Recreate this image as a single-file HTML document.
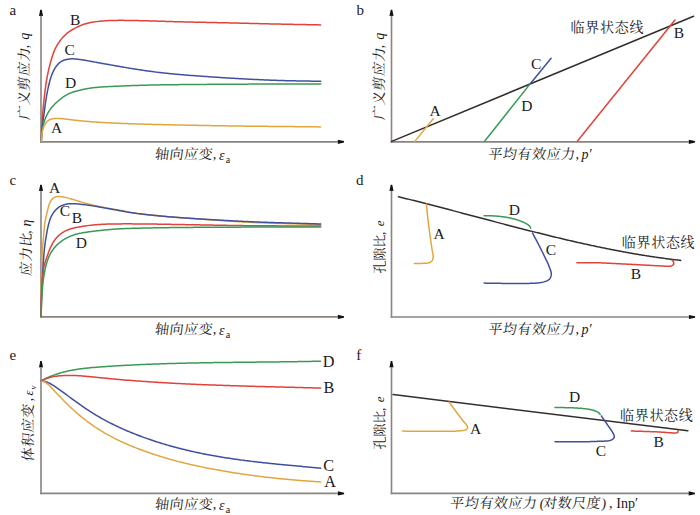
<!DOCTYPE html>
<html><head><meta charset="utf-8"><style>
html,body{margin:0;padding:0;background:#fff;width:700px;height:515px;overflow:hidden}
svg{display:block}
</style></head><body>
<svg width="700" height="515" viewBox="0 0 700 515">
<rect width="700" height="515" fill="#fff"/>
<text x="9.50" y="14.80" font-size="15" font-family="Liberation Serif, serif" fill="#1a1a1a">a</text>
<line x1="41.00" y1="142.65" x2="41.00" y2="13.80" stroke="#8a837e" stroke-width="1.6"/>
<line x1="40.20" y1="141.85" x2="340.00" y2="141.85" stroke="#8a837e" stroke-width="1.6"/>
<path d="M40.25,9.80 L41.75,9.80 L43.05,16.10 Q41.00,15.50 38.95,16.10 Z" fill="#111"/>
<path d="M344.00,141.10 L344.00,142.60 L337.70,143.90 Q338.30,141.85 337.70,139.80 Z" fill="#111"/>
<path d="M41.30,141.50 L41.33,140.50 L41.36,139.50 L41.38,138.50 L41.41,137.50 L41.44,136.50 L41.47,135.50 L41.50,134.50 L41.53,133.50 L41.56,132.50 L41.60,131.50 L41.64,130.50 L41.69,129.50 L41.73,128.50 L41.79,127.50 L41.84,126.50 L41.90,125.50 L41.95,124.50 L42.01,123.50 L42.08,122.50 L42.14,121.51 L42.21,120.51 L42.27,119.51 L42.34,118.51 L42.41,117.51 L42.49,116.52 L42.56,115.52 L42.64,114.52 L42.71,113.52 L42.79,112.52 L42.88,111.53 L42.96,110.53 L43.05,109.53 L43.14,108.54 L43.23,107.54 L43.32,106.54 L43.41,105.55 L43.51,104.55 L43.61,103.56 L43.71,102.56 L43.81,101.56 L43.92,100.57 L44.03,99.57 L44.14,98.58 L44.25,97.59 L44.37,96.59 L44.48,95.60 L44.61,94.61 L44.73,93.61 L44.85,92.62 L44.98,91.63 L45.11,90.63 L45.23,89.64 L45.36,88.65 L45.50,87.66 L45.63,86.67 L45.77,85.67 L45.91,84.68 L46.05,83.69 L46.20,82.70 L46.35,81.71 L46.50,80.73 L46.66,79.74 L46.83,78.75 L47.00,77.77 L47.18,76.78 L47.37,75.80 L47.56,74.82 L47.76,73.84 L47.96,72.86 L48.18,71.88 L48.39,70.90 L48.62,69.93 L48.85,68.95 L49.08,67.98 L49.32,67.01 L49.57,66.04 L49.82,65.07 L50.07,64.10 L50.34,63.14 L50.60,62.17 L50.87,61.21 L51.15,60.25 L51.43,59.29 L51.71,58.33 L52.00,57.37 L52.29,56.41 L52.59,55.46 L52.90,54.51 L53.22,53.56 L53.56,52.62 L53.92,51.69 L54.30,50.76 L54.69,49.85 L55.11,48.94 L55.55,48.04 L56.01,47.16 L56.49,46.28 L56.99,45.41 L57.51,44.56 L58.04,43.71 L58.59,42.88 L59.16,42.05 L59.74,41.24 L60.34,40.44 L60.95,39.65 L61.58,38.88 L62.22,38.11 L62.88,37.36 L63.56,36.62 L64.25,35.90 L64.95,35.19 L65.68,34.51 L66.42,33.84 L67.19,33.20 L67.97,32.58 L68.76,31.98 L69.58,31.40 L70.40,30.84 L71.24,30.30 L72.10,29.77 L72.96,29.27 L73.83,28.78 L74.71,28.30 L75.60,27.84 L76.49,27.39 L77.39,26.96 L78.30,26.54 L79.21,26.13 L80.13,25.74 L81.06,25.36 L81.99,24.99 L82.92,24.64 L83.87,24.31 L84.82,24.00 L85.77,23.71 L86.73,23.43 L87.70,23.18 L88.67,22.95 L89.65,22.73 L90.63,22.53 L91.61,22.35 L92.60,22.18 L93.58,22.03 L94.57,21.88 L95.57,21.75 L96.56,21.62 L97.55,21.50 L98.54,21.38 L99.54,21.27 L100.53,21.16 L101.53,21.06 L102.53,20.97 L103.52,20.89 L104.52,20.82 L105.52,20.75 L106.52,20.69 L107.52,20.64 L108.52,20.60 L109.52,20.56 L110.52,20.53 L111.52,20.50 L112.52,20.47 L113.52,20.45 L114.52,20.43 L115.52,20.41 L116.52,20.39 L117.52,20.38 L118.52,20.37 L119.52,20.36 L120.52,20.36 L121.52,20.36 L122.52,20.36 L123.52,20.37 L124.52,20.38 L125.52,20.39 L126.52,20.40 L127.52,20.42 L128.53,20.43 L129.53,20.45 L130.53,20.47 L131.53,20.49 L132.53,20.51 L133.53,20.53 L134.53,20.54 L135.53,20.56 L136.53,20.58 L137.53,20.60 L138.53,20.62 L139.53,20.65 L140.53,20.67 L141.53,20.69 L142.53,20.71 L143.53,20.74 L144.53,20.77 L145.53,20.79 L146.53,20.82 L147.53,20.85 L148.53,20.87 L149.53,20.90 L150.53,20.93 L151.53,20.96 L152.53,20.99 L153.53,21.02 L154.53,21.05 L155.54,21.08 L156.54,21.11 L157.54,21.14 L158.54,21.17 L159.54,21.20 L160.54,21.23 L161.54,21.27 L162.54,21.30 L163.54,21.33 L164.54,21.36 L165.54,21.39 L166.54,21.42 L167.54,21.45 L168.54,21.48 L169.54,21.51 L170.54,21.54 L171.54,21.57 L172.54,21.60 L173.54,21.63 L174.54,21.65 L175.54,21.68 L176.54,21.71 L177.54,21.73 L178.54,21.76 L179.54,21.79 L180.54,21.81 L181.54,21.84 L182.54,21.86 L183.54,21.89 L184.54,21.91 L185.54,21.93 L186.54,21.96 L187.54,21.98 L188.54,22.00 L189.54,22.03 L190.54,22.05 L191.55,22.07 L192.55,22.09 L193.55,22.12 L194.55,22.14 L195.55,22.16 L196.55,22.18 L197.55,22.20 L198.55,22.22 L199.55,22.25 L200.55,22.27 L201.55,22.29 L202.55,22.31 L203.55,22.33 L204.55,22.35 L205.55,22.37 L206.55,22.39 L207.55,22.41 L208.55,22.44 L209.55,22.46 L210.55,22.48 L211.55,22.50 L212.55,22.52 L213.55,22.54 L214.56,22.56 L215.56,22.58 L216.56,22.60 L217.56,22.63 L218.56,22.65 L219.56,22.67 L220.56,22.69 L221.56,22.71 L222.56,22.73 L223.56,22.76 L224.56,22.78 L225.56,22.80 L226.56,22.82 L227.56,22.84 L228.56,22.87 L229.56,22.89 L230.56,22.91 L231.56,22.94 L232.56,22.96 L233.56,22.98 L234.56,23.01 L235.56,23.03 L236.56,23.06 L237.56,23.08 L238.57,23.11 L239.57,23.13 L240.57,23.16 L241.57,23.18 L242.57,23.21 L243.57,23.23 L244.57,23.26 L245.57,23.28 L246.57,23.31 L247.57,23.33 L248.57,23.36 L249.57,23.38 L250.57,23.41 L251.57,23.43 L252.57,23.46 L253.57,23.48 L254.57,23.51 L255.57,23.53 L256.57,23.56 L257.57,23.58 L258.57,23.61 L259.57,23.63 L260.57,23.66 L261.57,23.68 L262.57,23.71 L263.57,23.73 L264.57,23.76 L265.57,23.78 L266.58,23.81 L267.58,23.83 L268.58,23.85 L269.58,23.88 L270.58,23.90 L271.58,23.92 L272.58,23.95 L273.58,23.97 L274.58,23.99 L275.58,24.01 L276.58,24.03 L277.58,24.06 L278.58,24.08 L279.58,24.10 L280.58,24.12 L281.58,24.14 L282.58,24.16 L283.58,24.18 L284.58,24.20 L285.58,24.22 L286.58,24.24 L287.58,24.26 L288.58,24.28 L289.59,24.30 L290.59,24.32 L291.59,24.34 L292.59,24.36 L293.59,24.38 L294.59,24.40 L295.59,24.42 L296.59,24.44 L297.59,24.46 L298.59,24.48 L299.59,24.50 L300.59,24.52 L301.59,24.54 L302.59,24.55 L303.59,24.57 L304.59,24.59 L305.59,24.61 L306.59,24.63 L307.59,24.65 L308.59,24.67 L309.59,24.69 L310.60,24.71 L311.60,24.73 L312.60,24.74 L313.60,24.76 L314.60,24.78 L315.60,24.80 L316.60,24.82 L317.60,24.84 L318.60,24.86 L319.60,24.88 L320.60,24.90" stroke="#e0433a" stroke-width="1.5" fill="none" stroke-linecap="round" stroke-linejoin="round"/>
<path d="M41.30,141.50 L41.36,140.50 L41.42,139.50 L41.47,138.50 L41.53,137.50 L41.59,136.50 L41.65,135.51 L41.71,134.51 L41.78,133.51 L41.85,132.51 L41.93,131.51 L42.01,130.52 L42.10,129.52 L42.19,128.52 L42.29,127.53 L42.40,126.53 L42.51,125.54 L42.62,124.54 L42.74,123.55 L42.86,122.55 L42.98,121.56 L43.11,120.57 L43.24,119.58 L43.37,118.58 L43.50,117.59 L43.63,116.60 L43.76,115.61 L43.90,114.62 L44.03,113.62 L44.17,112.63 L44.30,111.64 L44.44,110.65 L44.58,109.66 L44.71,108.67 L44.85,107.68 L44.98,106.68 L45.12,105.69 L45.26,104.70 L45.39,103.71 L45.53,102.72 L45.67,101.73 L45.82,100.74 L45.96,99.75 L46.12,98.76 L46.27,97.77 L46.44,96.78 L46.60,95.80 L46.78,94.81 L46.96,93.83 L47.15,92.84 L47.34,91.86 L47.54,90.88 L47.74,89.90 L47.94,88.92 L48.15,87.94 L48.37,86.96 L48.59,85.99 L48.81,85.01 L49.05,84.04 L49.29,83.07 L49.54,82.10 L49.79,81.13 L50.06,80.17 L50.34,79.21 L50.64,78.25 L50.94,77.30 L51.26,76.35 L51.60,75.41 L51.94,74.47 L52.31,73.54 L52.69,72.62 L53.10,71.71 L53.53,70.81 L53.99,69.92 L54.48,69.05 L54.99,68.20 L55.54,67.36 L56.11,66.55 L56.71,65.75 L57.34,64.98 L57.99,64.23 L58.69,63.53 L59.42,62.86 L60.19,62.24 L60.99,61.67 L61.84,61.17 L62.72,60.72 L63.63,60.33 L64.56,60.00 L65.51,59.72 L66.48,59.49 L67.45,59.29 L68.44,59.14 L69.43,59.01 L70.42,58.92 L71.42,58.87 L72.41,58.85 L73.41,58.86 L74.41,58.91 L75.40,58.98 L76.40,59.07 L77.39,59.18 L78.38,59.30 L79.38,59.43 L80.37,59.57 L81.36,59.71 L82.35,59.86 L83.34,60.02 L84.32,60.18 L85.31,60.35 L86.29,60.53 L87.28,60.70 L88.26,60.88 L89.25,61.06 L90.23,61.24 L91.22,61.42 L92.20,61.60 L93.19,61.78 L94.17,61.95 L95.16,62.13 L96.14,62.31 L97.13,62.49 L98.11,62.67 L99.10,62.85 L100.08,63.03 L101.07,63.21 L102.05,63.39 L103.04,63.56 L104.02,63.74 L105.01,63.91 L105.99,64.09 L106.98,64.26 L107.96,64.44 L108.95,64.61 L109.93,64.78 L110.92,64.95 L111.91,65.13 L112.89,65.30 L113.88,65.47 L114.86,65.64 L115.85,65.82 L116.83,65.99 L117.82,66.16 L118.81,66.34 L119.79,66.51 L120.78,66.68 L121.76,66.86 L122.75,67.03 L123.73,67.20 L124.72,67.37 L125.71,67.54 L126.69,67.71 L127.68,67.88 L128.67,68.05 L129.65,68.21 L130.64,68.38 L131.63,68.54 L132.62,68.70 L133.60,68.86 L134.59,69.02 L135.58,69.18 L136.57,69.33 L137.56,69.48 L138.55,69.63 L139.54,69.78 L140.53,69.93 L141.52,70.08 L142.51,70.23 L143.50,70.37 L144.49,70.52 L145.48,70.66 L146.47,70.80 L147.46,70.94 L148.45,71.08 L149.44,71.21 L150.43,71.35 L151.43,71.48 L152.42,71.61 L153.41,71.74 L154.40,71.87 L155.40,72.00 L156.39,72.12 L157.38,72.25 L158.38,72.37 L159.37,72.49 L160.36,72.60 L161.36,72.72 L162.35,72.83 L163.35,72.94 L164.34,73.05 L165.34,73.16 L166.33,73.26 L167.33,73.36 L168.32,73.47 L169.32,73.57 L170.31,73.67 L171.31,73.77 L172.31,73.86 L173.30,73.96 L174.30,74.05 L175.30,74.15 L176.29,74.24 L177.29,74.33 L178.29,74.42 L179.28,74.51 L180.28,74.60 L181.28,74.69 L182.27,74.77 L183.27,74.86 L184.27,74.94 L185.26,75.02 L186.26,75.10 L187.26,75.18 L188.26,75.25 L189.26,75.33 L190.25,75.40 L191.25,75.48 L192.25,75.55 L193.25,75.62 L194.25,75.69 L195.25,75.76 L196.24,75.83 L197.24,75.90 L198.24,75.98 L199.24,76.05 L200.24,76.12 L201.24,76.19 L202.23,76.26 L203.23,76.33 L204.23,76.40 L205.23,76.47 L206.23,76.54 L207.22,76.62 L208.22,76.69 L209.22,76.76 L210.22,76.83 L211.22,76.90 L212.22,76.97 L213.21,77.03 L214.21,77.10 L215.21,77.17 L216.21,77.24 L217.21,77.31 L218.21,77.37 L219.21,77.44 L220.20,77.51 L221.20,77.57 L222.20,77.64 L223.20,77.70 L224.20,77.77 L225.20,77.83 L226.20,77.89 L227.20,77.95 L228.19,78.02 L229.19,78.08 L230.19,78.14 L231.19,78.20 L232.19,78.26 L233.19,78.31 L234.19,78.37 L235.19,78.43 L236.19,78.49 L237.19,78.54 L238.19,78.60 L239.19,78.66 L240.18,78.71 L241.18,78.76 L242.18,78.82 L243.18,78.87 L244.18,78.93 L245.18,78.98 L246.18,79.03 L247.18,79.08 L248.18,79.13 L249.18,79.18 L250.18,79.23 L251.18,79.28 L252.18,79.33 L253.18,79.38 L254.18,79.43 L255.18,79.47 L256.18,79.52 L257.18,79.57 L258.18,79.61 L259.18,79.66 L260.18,79.71 L261.18,79.75 L262.18,79.79 L263.17,79.84 L264.17,79.88 L265.17,79.93 L266.17,79.97 L267.17,80.01 L268.17,80.05 L269.17,80.09 L270.17,80.13 L271.17,80.17 L272.17,80.21 L273.17,80.25 L274.17,80.29 L275.17,80.32 L276.18,80.36 L277.18,80.39 L278.18,80.43 L279.18,80.46 L280.18,80.49 L281.18,80.52 L282.18,80.55 L283.18,80.58 L284.18,80.61 L285.18,80.64 L286.18,80.67 L287.18,80.69 L288.18,80.72 L289.18,80.74 L290.18,80.77 L291.18,80.79 L292.18,80.81 L293.18,80.83 L294.18,80.85 L295.18,80.87 L296.18,80.89 L297.18,80.91 L298.19,80.92 L299.19,80.94 L300.19,80.96 L301.19,80.98 L302.19,80.99 L303.19,81.01 L304.19,81.03 L305.19,81.04 L306.19,81.06 L307.19,81.07 L308.19,81.09 L309.19,81.11 L310.19,81.12 L311.19,81.14 L312.19,81.15 L313.20,81.17 L314.20,81.19 L315.20,81.20 L316.20,81.22 L317.20,81.24 L318.20,81.26 L319.20,81.27 L320.20,81.29 L320.70,81.30" stroke="#4050a0" stroke-width="1.5" fill="none" stroke-linecap="round" stroke-linejoin="round"/>
<path d="M41.30,141.50 L41.35,140.50 L41.40,139.50 L41.45,138.50 L41.51,137.50 L41.59,136.51 L41.67,135.51 L41.76,134.51 L41.86,133.52 L41.98,132.52 L42.10,131.53 L42.23,130.54 L42.38,129.55 L42.55,128.57 L42.73,127.58 L42.93,126.60 L43.15,125.63 L43.39,124.66 L43.64,123.69 L43.92,122.73 L44.21,121.77 L44.52,120.82 L44.85,119.88 L45.19,118.94 L45.55,118.01 L45.94,117.09 L46.34,116.17 L46.77,115.27 L47.21,114.37 L47.67,113.49 L48.16,112.62 L48.66,111.75 L49.19,110.90 L49.74,110.07 L50.31,109.25 L50.90,108.44 L51.51,107.66 L52.15,106.89 L52.80,106.14 L53.48,105.40 L54.17,104.68 L54.89,103.98 L55.61,103.29 L56.35,102.62 L57.09,101.95 L57.84,101.29 L58.60,100.64 L59.37,99.99 L60.14,99.36 L60.92,98.73 L61.70,98.11 L62.50,97.51 L63.31,96.92 L64.13,96.35 L64.97,95.81 L65.82,95.29 L66.69,94.80 L67.57,94.33 L68.46,93.89 L69.37,93.48 L70.29,93.10 L71.23,92.73 L72.16,92.39 L73.11,92.07 L74.06,91.76 L75.02,91.47 L75.98,91.19 L76.94,90.92 L77.91,90.66 L78.88,90.41 L79.85,90.17 L80.82,89.93 L81.79,89.71 L82.77,89.49 L83.75,89.28 L84.73,89.08 L85.71,88.89 L86.70,88.71 L87.68,88.54 L88.67,88.38 L89.66,88.23 L90.65,88.09 L91.64,87.96 L92.63,87.83 L93.63,87.71 L94.62,87.59 L95.61,87.48 L96.61,87.38 L97.61,87.28 L98.60,87.19 L99.60,87.11 L100.60,87.03 L101.59,86.96 L102.59,86.90 L103.59,86.84 L104.59,86.79 L105.59,86.74 L106.59,86.69 L107.59,86.64 L108.59,86.60 L109.59,86.55 L110.59,86.51 L111.59,86.46 L112.59,86.41 L113.59,86.37 L114.59,86.32 L115.59,86.27 L116.59,86.23 L117.59,86.18 L118.59,86.14 L119.59,86.09 L120.59,86.05 L121.58,86.01 L122.58,85.97 L123.58,85.93 L124.58,85.88 L125.58,85.85 L126.58,85.81 L127.58,85.77 L128.58,85.73 L129.58,85.69 L130.58,85.66 L131.58,85.62 L132.58,85.58 L133.58,85.55 L134.58,85.51 L135.58,85.48 L136.58,85.45 L137.58,85.42 L138.59,85.38 L139.59,85.35 L140.59,85.32 L141.59,85.29 L142.59,85.26 L143.59,85.23 L144.59,85.21 L145.59,85.18 L146.59,85.15 L147.59,85.13 L148.59,85.10 L149.59,85.08 L150.59,85.06 L151.59,85.04 L152.59,85.02 L153.59,85.00 L154.59,84.98 L155.59,84.96 L156.59,84.94 L157.59,84.92 L158.59,84.90 L159.59,84.88 L160.59,84.87 L161.59,84.85 L162.59,84.84 L163.60,84.82 L164.60,84.81 L165.60,84.79 L166.60,84.78 L167.60,84.76 L168.60,84.75 L169.60,84.74 L170.60,84.73 L171.60,84.71 L172.60,84.70 L173.60,84.69 L174.60,84.68 L175.60,84.67 L176.60,84.66 L177.60,84.65 L178.60,84.64 L179.61,84.62 L180.61,84.61 L181.61,84.60 L182.61,84.59 L183.61,84.58 L184.61,84.57 L185.61,84.56 L186.61,84.56 L187.61,84.55 L188.61,84.54 L189.61,84.53 L190.61,84.52 L191.61,84.51 L192.61,84.50 L193.61,84.49 L194.61,84.48 L195.62,84.47 L196.62,84.47 L197.62,84.46 L198.62,84.45 L199.62,84.44 L200.62,84.43 L201.62,84.42 L202.62,84.41 L203.62,84.41 L204.62,84.40 L205.62,84.39 L206.62,84.38 L207.62,84.37 L208.62,84.36 L209.62,84.36 L210.63,84.35 L211.63,84.34 L212.63,84.33 L213.63,84.33 L214.63,84.32 L215.63,84.31 L216.63,84.30 L217.63,84.30 L218.63,84.29 L219.63,84.28 L220.63,84.27 L221.63,84.27 L222.63,84.26 L223.63,84.25 L224.63,84.25 L225.64,84.24 L226.64,84.24 L227.64,84.23 L228.64,84.22 L229.64,84.22 L230.64,84.21 L231.64,84.20 L232.64,84.20 L233.64,84.19 L234.64,84.19 L235.64,84.18 L236.64,84.18 L237.64,84.17 L238.64,84.17 L239.64,84.16 L240.65,84.16 L241.65,84.15 L242.65,84.15 L243.65,84.14 L244.65,84.14 L245.65,84.14 L246.65,84.13 L247.65,84.13 L248.65,84.12 L249.65,84.12 L250.65,84.12 L251.65,84.11 L252.65,84.11 L253.65,84.11 L254.65,84.10 L255.66,84.10 L256.66,84.10 L257.66,84.10 L258.66,84.09 L259.66,84.09 L260.66,84.09 L261.66,84.09 L262.66,84.08 L263.66,84.08 L264.66,84.08 L265.66,84.08 L266.66,84.08 L267.66,84.08 L268.66,84.08 L269.67,84.08 L270.67,84.08 L271.67,84.08 L272.67,84.07 L273.67,84.07 L274.67,84.07 L275.67,84.07 L276.67,84.07 L277.67,84.07 L278.67,84.07 L279.67,84.07 L280.67,84.07 L281.67,84.07 L282.67,84.08 L283.67,84.08 L284.68,84.08 L285.68,84.08 L286.68,84.08 L287.68,84.08 L288.68,84.08 L289.68,84.08 L290.68,84.08 L291.68,84.08 L292.68,84.08 L293.68,84.08 L294.68,84.08 L295.68,84.08 L296.68,84.08 L297.68,84.09 L298.68,84.09 L299.69,84.09 L300.69,84.09 L301.69,84.09 L302.69,84.09 L303.69,84.09 L304.69,84.09 L305.69,84.09 L306.69,84.09 L307.69,84.09 L308.69,84.09 L309.69,84.10 L310.69,84.10 L311.69,84.10 L312.69,84.10 L313.70,84.10 L314.70,84.10 L315.70,84.10 L316.70,84.10 L317.70,84.10 L318.70,84.10 L319.70,84.10 L320.70,84.10" stroke="#3a9a55" stroke-width="1.5" fill="none" stroke-linecap="round" stroke-linejoin="round"/>
<path d="M41.30,141.50 L41.37,140.50 L41.43,139.50 L41.51,138.51 L41.59,137.51 L41.67,136.51 L41.78,135.52 L41.90,134.53 L42.03,133.54 L42.20,132.55 L42.38,131.57 L42.60,130.60 L42.85,129.64 L43.14,128.68 L43.46,127.74 L43.82,126.81 L44.21,125.90 L44.65,125.01 L45.13,124.14 L45.66,123.30 L46.23,122.51 L46.86,121.76 L47.55,121.08 L48.30,120.48 L49.12,119.96 L49.98,119.54 L50.89,119.19 L51.83,118.92 L52.80,118.71 L53.78,118.56 L54.76,118.46 L55.76,118.40 L56.75,118.38 L57.75,118.39 L58.75,118.42 L59.75,118.47 L60.75,118.53 L61.74,118.62 L62.74,118.71 L63.73,118.81 L64.73,118.93 L65.72,119.05 L66.71,119.17 L67.70,119.30 L68.70,119.43 L69.69,119.55 L70.68,119.67 L71.67,119.79 L72.67,119.91 L73.66,120.03 L74.66,120.14 L75.65,120.25 L76.64,120.36 L77.64,120.47 L78.63,120.58 L79.63,120.68 L80.62,120.79 L81.62,120.89 L82.61,120.98 L83.61,121.08 L84.61,121.17 L85.60,121.26 L86.60,121.35 L87.60,121.44 L88.59,121.53 L89.59,121.61 L90.59,121.69 L91.58,121.77 L92.58,121.84 L93.58,121.91 L94.58,121.98 L95.57,122.05 L96.57,122.12 L97.57,122.18 L98.57,122.25 L99.57,122.31 L100.57,122.37 L101.57,122.42 L102.56,122.48 L103.56,122.54 L104.56,122.59 L105.56,122.65 L106.56,122.70 L107.56,122.75 L108.56,122.80 L109.56,122.85 L110.56,122.90 L111.56,122.95 L112.56,122.99 L113.56,123.04 L114.55,123.08 L115.55,123.13 L116.55,123.17 L117.55,123.22 L118.55,123.26 L119.55,123.30 L120.55,123.34 L121.55,123.38 L122.55,123.42 L123.55,123.46 L124.55,123.50 L125.55,123.54 L126.55,123.57 L127.55,123.61 L128.55,123.65 L129.55,123.68 L130.55,123.72 L131.55,123.75 L132.55,123.79 L133.55,123.82 L134.55,123.85 L135.55,123.89 L136.55,123.92 L137.55,123.95 L138.55,123.98 L139.55,124.01 L140.55,124.04 L141.55,124.07 L142.55,124.10 L143.55,124.13 L144.55,124.16 L145.55,124.19 L146.55,124.21 L147.55,124.24 L148.55,124.27 L149.55,124.30 L150.55,124.32 L151.55,124.35 L152.55,124.38 L153.55,124.40 L154.55,124.43 L155.55,124.45 L156.55,124.48 L157.55,124.50 L158.55,124.53 L159.55,124.55 L160.55,124.58 L161.55,124.60 L162.55,124.63 L163.55,124.65 L164.55,124.67 L165.55,124.70 L166.55,124.72 L167.55,124.74 L168.55,124.77 L169.55,124.79 L170.55,124.81 L171.55,124.83 L172.55,124.86 L173.55,124.88 L174.55,124.90 L175.55,124.92 L176.55,124.94 L177.55,124.97 L178.55,124.99 L179.55,125.01 L180.55,125.03 L181.55,125.05 L182.55,125.07 L183.55,125.09 L184.55,125.11 L185.55,125.13 L186.55,125.15 L187.55,125.17 L188.55,125.19 L189.55,125.21 L190.56,125.23 L191.56,125.25 L192.56,125.27 L193.56,125.29 L194.56,125.31 L195.56,125.33 L196.56,125.35 L197.56,125.37 L198.56,125.39 L199.56,125.41 L200.56,125.43 L201.56,125.44 L202.56,125.46 L203.56,125.48 L204.56,125.50 L205.56,125.52 L206.56,125.54 L207.56,125.56 L208.56,125.57 L209.56,125.59 L210.56,125.61 L211.56,125.63 L212.56,125.64 L213.56,125.66 L214.56,125.68 L215.56,125.70 L216.56,125.71 L217.56,125.73 L218.56,125.75 L219.56,125.76 L220.56,125.78 L221.56,125.80 L222.56,125.81 L223.56,125.83 L224.56,125.84 L225.56,125.86 L226.57,125.87 L227.57,125.89 L228.57,125.90 L229.57,125.92 L230.57,125.93 L231.57,125.95 L232.57,125.96 L233.57,125.97 L234.57,125.99 L235.57,126.00 L236.57,126.01 L237.57,126.03 L238.57,126.04 L239.57,126.05 L240.57,126.07 L241.57,126.08 L242.57,126.09 L243.57,126.10 L244.57,126.12 L245.57,126.13 L246.57,126.14 L247.57,126.15 L248.57,126.16 L249.57,126.17 L250.57,126.19 L251.57,126.20 L252.57,126.21 L253.57,126.22 L254.57,126.23 L255.58,126.24 L256.58,126.25 L257.58,126.26 L258.58,126.27 L259.58,126.28 L260.58,126.30 L261.58,126.31 L262.58,126.32 L263.58,126.33 L264.58,126.34 L265.58,126.35 L266.58,126.36 L267.58,126.37 L268.58,126.38 L269.58,126.39 L270.58,126.40 L271.58,126.41 L272.58,126.42 L273.58,126.43 L274.58,126.44 L275.58,126.45 L276.58,126.46 L277.58,126.47 L278.58,126.48 L279.58,126.49 L280.58,126.49 L281.59,126.50 L282.59,126.51 L283.59,126.52 L284.59,126.53 L285.59,126.54 L286.59,126.55 L287.59,126.56 L288.59,126.57 L289.59,126.58 L290.59,126.59 L291.59,126.60 L292.59,126.61 L293.59,126.62 L294.59,126.63 L295.59,126.64 L296.59,126.65 L297.59,126.66 L298.59,126.67 L299.59,126.68 L300.59,126.69 L301.59,126.70 L302.59,126.71 L303.59,126.72 L304.59,126.73 L305.59,126.74 L306.59,126.75 L307.60,126.76 L308.60,126.77 L309.60,126.78 L310.60,126.79 L311.60,126.80 L312.60,126.81 L313.60,126.82 L314.60,126.83 L315.60,126.84 L316.60,126.86 L317.60,126.87 L318.60,126.88 L319.60,126.89 L320.60,126.90" stroke="#e3a63f" stroke-width="1.5" fill="none" stroke-linecap="round" stroke-linejoin="round"/>
<text class="lab" x="70.00" y="25.00" font-size="15.5" font-family="Liberation Serif, serif" fill="#1a1a1a">B</text>
<text class="lab" x="64.50" y="55.30" font-size="15.5" font-family="Liberation Serif, serif" fill="#1a1a1a">C</text>
<text class="lab" x="65.00" y="87.70" font-size="15.5" font-family="Liberation Serif, serif" fill="#1a1a1a">D</text>
<text class="lab" x="51.00" y="133.30" font-size="15.5" font-family="Liberation Serif, serif" fill="#1a1a1a">A</text>
<text transform="translate(154.50,159.00) skewX(-7.50)" font-size="14" font-family="Liberation Serif, Noto Serif CJK SC, serif" letter-spacing="0.55" fill="#1a1a1a">轴向应变</text><text x="212.70" y="159.00" font-size="14" font-family="Liberation Serif, serif" fill="#1a1a1a">,</text><text x="219.10" y="159.70" font-size="14" font-family="Liberation Serif, serif" font-style="italic" fill="#1a1a1a">ε</text><text x="225.80" y="163.10" font-size="10" font-family="Liberation Serif, serif" fill="#1a1a1a">a</text>
<g transform="translate(28.80,120.20) rotate(-90)"><text transform="translate(0.00,0.00) skewX(-7.50)" font-size="14" font-family="Liberation Serif, Noto Serif CJK SC, serif" letter-spacing="0.55" fill="#1a1a1a">广义剪应力</text><text x="72.00" y="0.00" font-size="14" font-family="Liberation Serif, serif" fill="#1a1a1a">,</text><text x="80.40" y="0.00" font-size="14" font-family="Liberation Serif, serif" font-style="italic" fill="#1a1a1a">q</text></g>
<text x="356.50" y="14.80" font-size="15" font-family="Liberation Serif, serif" fill="#1a1a1a">b</text>
<line x1="391.50" y1="142.65" x2="391.50" y2="13.80" stroke="#8a837e" stroke-width="1.6"/>
<line x1="390.70" y1="141.85" x2="691.00" y2="141.85" stroke="#8a837e" stroke-width="1.6"/>
<path d="M390.75,9.80 L392.25,9.80 L393.55,16.10 Q391.50,15.50 389.45,16.10 Z" fill="#111"/>
<path d="M695.00,141.10 L695.00,142.60 L688.70,143.90 Q689.30,141.85 688.70,139.80 Z" fill="#111"/>
<line x1="391.70" y1="141.40" x2="693.60" y2="16.20" stroke="#332e2b" stroke-width="1.5" stroke-linecap="round"/>
<line x1="414.80" y1="141.40" x2="433.20" y2="118.70" stroke="#e3a63f" stroke-width="1.5" stroke-linecap="round"/>
<line x1="484.60" y1="141.20" x2="530.50" y2="83.40" stroke="#3a9a55" stroke-width="1.5" stroke-linecap="round"/>
<line x1="530.50" y1="83.40" x2="551.10" y2="58.30" stroke="#4050a0" stroke-width="1.5" stroke-linecap="round"/>
<line x1="577.30" y1="141.20" x2="675.00" y2="20.00" stroke="#e0433a" stroke-width="1.5" stroke-linecap="round"/>
<text class="lab" x="429.50" y="116.30" font-size="15.5" font-family="Liberation Serif, serif" fill="#1a1a1a">A</text>
<text class="lab" x="531.00" y="69.30" font-size="15.5" font-family="Liberation Serif, serif" fill="#1a1a1a">C</text>
<text class="lab" x="521.30" y="111.10" font-size="15.5" font-family="Liberation Serif, serif" fill="#1a1a1a">D</text>
<text class="lab" x="673.80" y="38.00" font-size="15.5" font-family="Liberation Serif, serif" fill="#1a1a1a">B</text>
<text transform="translate(570.60,31.90)" font-size="14" font-family="Liberation Serif, Noto Serif CJK SC, serif" letter-spacing="0.7" fill="#1a1a1a">临界状态线</text>
<text transform="translate(487.80,158.75) skewX(-7.50)" font-size="14" font-family="Liberation Serif, Noto Serif CJK SC, serif" letter-spacing="0.55" fill="#1a1a1a">平均有效应力</text><text x="575.40" y="158.75" font-size="14" font-family="Liberation Serif, serif" fill="#1a1a1a">,</text><text x="581.60" y="158.75" font-size="14" font-family="Liberation Serif, serif" font-style="italic" fill="#1a1a1a">p′</text>
<g transform="translate(383.80,120.20) rotate(-90)"><text transform="translate(0.00,0.00) skewX(-7.50)" font-size="14" font-family="Liberation Serif, Noto Serif CJK SC, serif" letter-spacing="0.55" fill="#1a1a1a">广义剪应力</text><text x="72.00" y="0.00" font-size="14" font-family="Liberation Serif, serif" fill="#1a1a1a">,</text><text x="80.40" y="0.00" font-size="14" font-family="Liberation Serif, serif" font-style="italic" fill="#1a1a1a">q</text></g>
<text x="9.50" y="185.30" font-size="15" font-family="Liberation Serif, serif" fill="#1a1a1a">c</text>
<line x1="41.00" y1="317.70" x2="41.00" y2="188.80" stroke="#8a837e" stroke-width="1.6"/>
<line x1="40.20" y1="316.90" x2="340.00" y2="316.90" stroke="#8a837e" stroke-width="1.6"/>
<path d="M40.25,184.80 L41.75,184.80 L43.05,191.10 Q41.00,190.50 38.95,191.10 Z" fill="#111"/>
<path d="M344.00,316.15 L344.00,317.65 L337.70,318.95 Q338.30,316.90 337.70,314.85 Z" fill="#111"/>
<path d="M41.10,316.40 L41.11,315.40 L41.12,314.40 L41.13,313.40 L41.13,312.40 L41.14,311.40 L41.15,310.40 L41.16,309.40 L41.17,308.39 L41.18,307.39 L41.18,306.39 L41.19,305.39 L41.20,304.39 L41.21,303.39 L41.22,302.39 L41.23,301.39 L41.24,300.39 L41.25,299.39 L41.26,298.39 L41.27,297.39 L41.28,296.39 L41.30,295.39 L41.31,294.39 L41.32,293.38 L41.33,292.38 L41.34,291.38 L41.36,290.38 L41.37,289.38 L41.38,288.38 L41.39,287.38 L41.41,286.38 L41.42,285.38 L41.43,284.38 L41.44,283.38 L41.46,282.38 L41.47,281.38 L41.48,280.38 L41.50,279.38 L41.51,278.38 L41.53,277.38 L41.54,276.37 L41.56,275.37 L41.58,274.37 L41.59,273.37 L41.61,272.37 L41.63,271.37 L41.65,270.37 L41.67,269.37 L41.69,268.37 L41.72,267.37 L41.74,266.37 L41.77,265.37 L41.79,264.37 L41.82,263.37 L41.86,262.37 L41.89,261.37 L41.92,260.37 L41.96,259.37 L42.00,258.37 L42.04,257.37 L42.08,256.37 L42.13,255.37 L42.18,254.37 L42.23,253.37 L42.29,252.37 L42.35,251.37 L42.42,250.37 L42.49,249.38 L42.56,248.38 L42.64,247.38 L42.73,246.38 L42.81,245.39 L42.90,244.39 L42.99,243.39 L43.08,242.40 L43.17,241.40 L43.25,240.40 L43.34,239.41 L43.42,238.41 L43.50,237.41 L43.57,236.41 L43.65,235.42 L43.73,234.42 L43.81,233.42 L43.89,232.42 L43.98,231.43 L44.07,230.43 L44.16,229.43 L44.26,228.44 L44.36,227.44 L44.47,226.45 L44.58,225.45 L44.69,224.46 L44.82,223.47 L44.96,222.48 L45.11,221.49 L45.28,220.50 L45.47,219.52 L45.67,218.54 L45.89,217.57 L46.12,216.59 L46.36,215.62 L46.60,214.65 L46.84,213.68 L47.06,212.71 L47.28,211.73 L47.50,210.75 L47.72,209.78 L47.94,208.80 L48.17,207.83 L48.43,206.86 L48.71,205.91 L49.01,204.96 L49.35,204.02 L49.72,203.10 L50.13,202.19 L50.59,201.31 L51.09,200.47 L51.66,199.69 L52.30,198.97 L53.01,198.33 L53.79,197.79 L54.64,197.35 L55.54,197.01 L56.47,196.77 L57.43,196.61 L58.41,196.53 L59.40,196.52 L60.39,196.56 L61.38,196.66 L62.36,196.79 L63.35,196.96 L64.33,197.16 L65.30,197.37 L66.27,197.61 L67.24,197.86 L68.21,198.12 L69.17,198.40 L70.13,198.67 L71.09,198.95 L72.05,199.24 L73.01,199.52 L73.97,199.80 L74.93,200.09 L75.89,200.37 L76.85,200.66 L77.81,200.95 L78.76,201.24 L79.72,201.53 L80.68,201.82 L81.64,202.11 L82.60,202.39 L83.56,202.67 L84.52,202.95 L85.48,203.22 L86.45,203.48 L87.41,203.74 L88.38,204.00 L89.35,204.25 L90.32,204.49 L91.29,204.73 L92.26,204.97 L93.24,205.20 L94.21,205.43 L95.19,205.66 L96.16,205.88 L97.14,206.10 L98.12,206.31 L99.09,206.52 L100.07,206.73 L101.05,206.94 L102.03,207.14 L103.01,207.33 L104.00,207.53 L104.98,207.72 L105.96,207.90 L106.95,208.09 L107.93,208.26 L108.92,208.44 L109.90,208.60 L110.89,208.76 L111.88,208.92 L112.87,209.07 L113.86,209.23 L114.85,209.38 L115.83,209.53 L116.82,209.69 L117.81,209.85 L118.80,210.02 L119.78,210.19 L120.76,210.38 L121.74,210.58 L122.72,210.78 L123.70,210.99 L124.68,211.21 L125.66,211.42 L126.63,211.64 L127.61,211.85 L128.59,212.06 L129.57,212.26 L130.55,212.45 L131.53,212.63 L132.52,212.81 L133.51,212.97 L134.50,213.12 L135.49,213.27 L136.48,213.41 L137.47,213.55 L138.46,213.68 L139.45,213.81 L140.45,213.93 L141.44,214.05 L142.43,214.17 L143.43,214.28 L144.42,214.39 L145.42,214.50 L146.41,214.61 L147.41,214.72 L148.40,214.82 L149.40,214.93 L150.39,215.03 L151.39,215.13 L152.38,215.23 L153.38,215.33 L154.37,215.43 L155.37,215.52 L156.37,215.62 L157.36,215.72 L158.36,215.81 L159.35,215.90 L160.35,216.00 L161.35,216.09 L162.34,216.18 L163.34,216.28 L164.34,216.36 L165.33,216.45 L166.33,216.54 L167.33,216.62 L168.33,216.71 L169.32,216.79 L170.32,216.87 L171.32,216.95 L172.32,217.03 L173.31,217.10 L174.31,217.18 L175.31,217.25 L176.31,217.32 L177.30,217.40 L178.30,217.47 L179.30,217.54 L180.30,217.61 L181.30,217.68 L182.30,217.75 L183.29,217.82 L184.29,217.90 L185.29,217.97 L186.29,218.04 L187.29,218.11 L188.28,218.18 L189.28,218.25 L190.28,218.32 L191.28,218.39 L192.28,218.47 L193.28,218.54 L194.27,218.61 L195.27,218.68 L196.27,218.76 L197.27,218.83 L198.27,218.90 L199.26,218.98 L200.26,219.05 L201.26,219.12 L202.26,219.20 L203.26,219.27 L204.25,219.34 L205.25,219.41 L206.25,219.49 L207.25,219.56 L208.25,219.63 L209.24,219.70 L210.24,219.78 L211.24,219.85 L212.24,219.92 L213.24,219.99 L214.23,220.06 L215.23,220.13 L216.23,220.20 L217.23,220.28 L218.23,220.35 L219.23,220.41 L220.22,220.48 L221.22,220.55 L222.22,220.62 L223.22,220.69 L224.22,220.76 L225.22,220.82 L226.21,220.89 L227.21,220.96 L228.21,221.02 L229.21,221.09 L230.21,221.15 L231.21,221.22 L232.21,221.28 L233.20,221.34 L234.20,221.41 L235.20,221.47 L236.20,221.53 L237.20,221.59 L238.20,221.65 L239.20,221.71 L240.20,221.77 L241.20,221.82 L242.19,221.88 L243.19,221.94 L244.19,221.99 L245.19,222.05 L246.19,222.10 L247.19,222.15 L248.19,222.21 L249.19,222.26 L250.19,222.31 L251.19,222.35 L252.19,222.40 L253.19,222.45 L254.19,222.50 L255.19,222.54 L256.19,222.58 L257.19,222.63 L258.19,222.67 L259.19,222.71 L260.19,222.75 L261.19,222.79 L262.19,222.83 L263.19,222.87 L264.19,222.91 L265.19,222.95 L266.19,222.98 L267.19,223.02 L268.19,223.05 L269.19,223.09 L270.19,223.12 L271.19,223.16 L272.19,223.19 L273.19,223.22 L274.19,223.26 L275.19,223.29 L276.19,223.32 L277.19,223.35 L278.19,223.38 L279.19,223.41 L280.19,223.44 L281.19,223.47 L282.19,223.50 L283.19,223.53 L284.19,223.56 L285.19,223.59 L286.19,223.62 L287.19,223.64 L288.19,223.67 L289.19,223.70 L290.19,223.73 L291.19,223.76 L292.19,223.78 L293.19,223.81 L294.19,223.84 L295.19,223.86 L296.19,223.89 L297.19,223.92 L298.19,223.95 L299.19,223.97 L300.19,224.00 L301.19,224.03 L302.20,224.06 L303.20,224.08 L304.20,224.11 L305.20,224.14 L306.20,224.17 L307.20,224.20 L308.20,224.22 L309.20,224.25 L310.20,224.28 L311.20,224.31 L312.20,224.34 L313.20,224.37 L314.20,224.40 L315.20,224.43 L316.20,224.46 L317.20,224.49 L318.20,224.52 L319.20,224.55 L320.20,224.58 L320.70,224.60" stroke="#e3a63f" stroke-width="1.5" fill="none" stroke-linecap="round" stroke-linejoin="round"/>
<path d="M41.10,316.40 L41.12,315.40 L41.14,314.40 L41.17,313.40 L41.19,312.40 L41.21,311.40 L41.23,310.40 L41.25,309.40 L41.27,308.40 L41.30,307.40 L41.32,306.39 L41.35,305.39 L41.37,304.39 L41.40,303.39 L41.43,302.39 L41.46,301.39 L41.49,300.39 L41.53,299.39 L41.56,298.39 L41.60,297.39 L41.63,296.39 L41.67,295.39 L41.71,294.39 L41.75,293.39 L41.79,292.39 L41.83,291.39 L41.87,290.39 L41.91,289.39 L41.96,288.39 L42.00,287.39 L42.04,286.39 L42.09,285.39 L42.13,284.39 L42.18,283.39 L42.22,282.39 L42.27,281.39 L42.32,280.39 L42.36,279.39 L42.41,278.39 L42.46,277.39 L42.51,276.40 L42.56,275.40 L42.61,274.40 L42.66,273.40 L42.72,272.40 L42.77,271.40 L42.83,270.40 L42.88,269.40 L42.94,268.40 L43.00,267.40 L43.06,266.40 L43.12,265.40 L43.18,264.40 L43.25,263.41 L43.31,262.41 L43.38,261.41 L43.46,260.41 L43.53,259.41 L43.61,258.42 L43.69,257.42 L43.77,256.42 L43.85,255.42 L43.94,254.43 L44.03,253.43 L44.12,252.43 L44.21,251.44 L44.30,250.44 L44.40,249.44 L44.50,248.45 L44.61,247.45 L44.72,246.46 L44.84,245.46 L44.96,244.47 L45.09,243.48 L45.23,242.49 L45.37,241.50 L45.52,240.51 L45.67,239.52 L45.83,238.53 L46.00,237.54 L46.17,236.56 L46.34,235.57 L46.51,234.59 L46.68,233.60 L46.86,232.61 L47.03,231.63 L47.22,230.65 L47.40,229.66 L47.60,228.68 L47.81,227.70 L48.02,226.73 L48.25,225.75 L48.48,224.78 L48.73,223.81 L48.99,222.84 L49.26,221.88 L49.54,220.92 L49.85,219.97 L50.18,219.03 L50.54,218.10 L50.93,217.18 L51.35,216.28 L51.81,215.40 L52.30,214.53 L52.83,213.68 L53.38,212.86 L53.97,212.05 L54.58,211.26 L55.22,210.50 L55.90,209.77 L56.60,209.08 L57.34,208.41 L58.12,207.79 L58.92,207.21 L59.76,206.68 L60.62,206.19 L61.51,205.74 L62.42,205.35 L63.35,204.99 L64.29,204.68 L65.25,204.41 L66.22,204.19 L67.19,204.00 L68.18,203.86 L69.17,203.75 L70.16,203.68 L71.16,203.65 L72.16,203.64 L73.16,203.67 L74.16,203.71 L75.15,203.77 L76.15,203.85 L77.15,203.93 L78.14,204.03 L79.14,204.12 L80.14,204.22 L81.13,204.32 L82.13,204.42 L83.12,204.53 L84.12,204.64 L85.11,204.76 L86.10,204.88 L87.10,205.01 L88.09,205.14 L89.08,205.28 L90.07,205.42 L91.06,205.57 L92.05,205.72 L93.04,205.87 L94.03,206.03 L95.01,206.20 L96.00,206.36 L96.99,206.54 L97.97,206.71 L98.96,206.89 L99.94,207.07 L100.93,207.24 L101.91,207.42 L102.90,207.60 L103.88,207.78 L104.87,207.95 L105.85,208.13 L106.84,208.31 L107.82,208.49 L108.80,208.67 L109.79,208.85 L110.77,209.03 L111.76,209.21 L112.74,209.39 L113.73,209.57 L114.71,209.75 L115.70,209.93 L116.68,210.10 L117.67,210.28 L118.65,210.46 L119.64,210.64 L120.62,210.81 L121.61,210.99 L122.59,211.17 L123.58,211.35 L124.56,211.52 L125.55,211.70 L126.53,211.87 L127.52,212.04 L128.51,212.21 L129.49,212.37 L130.48,212.52 L131.47,212.68 L132.46,212.82 L133.45,212.96 L134.44,213.10 L135.43,213.24 L136.43,213.37 L137.42,213.49 L138.41,213.62 L139.40,213.74 L140.40,213.86 L141.39,213.98 L142.39,214.10 L143.38,214.22 L144.37,214.33 L145.37,214.44 L146.36,214.55 L147.36,214.66 L148.35,214.77 L149.35,214.88 L150.34,214.99 L151.34,215.09 L152.33,215.20 L153.33,215.30 L154.32,215.40 L155.32,215.50 L156.32,215.60 L157.31,215.70 L158.31,215.80 L159.30,215.90 L160.30,215.99 L161.30,216.09 L162.29,216.18 L163.29,216.27 L164.29,216.36 L165.28,216.45 L166.28,216.54 L167.28,216.63 L168.27,216.71 L169.27,216.79 L170.27,216.88 L171.27,216.96 L172.26,217.04 L173.26,217.12 L174.26,217.19 L175.26,217.27 L176.25,217.34 L177.25,217.42 L178.25,217.49 L179.25,217.56 L180.25,217.63 L181.25,217.70 L182.24,217.77 L183.24,217.84 L184.24,217.91 L185.24,217.98 L186.24,218.05 L187.24,218.11 L188.23,218.18 L189.23,218.25 L190.23,218.31 L191.23,218.38 L192.23,218.45 L193.23,218.51 L194.23,218.58 L195.23,218.64 L196.22,218.71 L197.22,218.77 L198.22,218.84 L199.22,218.90 L200.22,218.96 L201.22,219.03 L202.22,219.09 L203.22,219.15 L204.21,219.21 L205.21,219.28 L206.21,219.34 L207.21,219.40 L208.21,219.46 L209.21,219.52 L210.21,219.58 L211.21,219.64 L212.21,219.70 L213.20,219.76 L214.20,219.82 L215.20,219.88 L216.20,219.94 L217.20,220.00 L218.20,220.05 L219.20,220.11 L220.20,220.17 L221.20,220.22 L222.20,220.28 L223.20,220.34 L224.20,220.39 L225.19,220.45 L226.19,220.50 L227.19,220.56 L228.19,220.61 L229.19,220.67 L230.19,220.72 L231.19,220.77 L232.19,220.83 L233.19,220.88 L234.19,220.93 L235.19,220.98 L236.19,221.03 L237.19,221.09 L238.19,221.14 L239.19,221.19 L240.19,221.24 L241.19,221.29 L242.18,221.33 L243.18,221.38 L244.18,221.43 L245.18,221.48 L246.18,221.52 L247.18,221.57 L248.18,221.62 L249.18,221.66 L250.18,221.71 L251.18,221.75 L252.18,221.79 L253.18,221.84 L254.18,221.88 L255.18,221.92 L256.18,221.96 L257.18,222.00 L258.18,222.04 L259.18,222.08 L260.18,222.12 L261.18,222.16 L262.18,222.19 L263.18,222.23 L264.18,222.27 L265.18,222.30 L266.18,222.34 L267.18,222.37 L268.18,222.41 L269.18,222.44 L270.18,222.47 L271.18,222.51 L272.18,222.54 L273.18,222.57 L274.18,222.61 L275.18,222.64 L276.18,222.67 L277.19,222.70 L278.19,222.73 L279.19,222.76 L280.19,222.80 L281.19,222.83 L282.19,222.86 L283.19,222.89 L284.19,222.92 L285.19,222.95 L286.19,222.98 L287.19,223.00 L288.19,223.03 L289.19,223.06 L290.19,223.09 L291.19,223.12 L292.19,223.15 L293.19,223.18 L294.19,223.21 L295.19,223.24 L296.19,223.27 L297.19,223.29 L298.19,223.32 L299.19,223.35 L300.19,223.38 L301.19,223.41 L302.19,223.44 L303.19,223.47 L304.19,223.50 L305.20,223.53 L306.20,223.56 L307.20,223.59 L308.20,223.61 L309.20,223.64 L310.20,223.67 L311.20,223.70 L312.20,223.73 L313.20,223.76 L314.20,223.80 L315.20,223.83 L316.20,223.86 L317.20,223.89 L318.20,223.92 L319.20,223.95 L320.20,223.98 L320.70,224.00" stroke="#4050a0" stroke-width="1.5" fill="none" stroke-linecap="round" stroke-linejoin="round"/>
<path d="M41.10,316.40 L41.11,315.40 L41.12,314.40 L41.13,313.40 L41.14,312.40 L41.15,311.40 L41.16,310.40 L41.17,309.40 L41.18,308.40 L41.19,307.40 L41.20,306.40 L41.21,305.40 L41.23,304.40 L41.24,303.40 L41.25,302.40 L41.27,301.40 L41.29,300.40 L41.31,299.40 L41.34,298.40 L41.37,297.40 L41.40,296.40 L41.43,295.40 L41.47,294.40 L41.51,293.40 L41.56,292.40 L41.61,291.40 L41.66,290.40 L41.71,289.40 L41.77,288.40 L41.83,287.41 L41.89,286.41 L41.96,285.41 L42.03,284.41 L42.10,283.41 L42.18,282.42 L42.26,281.42 L42.34,280.42 L42.43,279.43 L42.52,278.43 L42.61,277.44 L42.71,276.44 L42.81,275.45 L42.92,274.45 L43.04,273.46 L43.16,272.46 L43.28,271.47 L43.41,270.48 L43.55,269.49 L43.70,268.50 L43.87,267.52 L44.05,266.54 L44.26,265.56 L44.50,264.59 L44.75,263.62 L45.03,262.67 L45.32,261.71 L45.63,260.76 L45.95,259.81 L46.27,258.86 L46.59,257.92 L46.91,256.97 L47.24,256.02 L47.57,255.08 L47.90,254.14 L48.23,253.19 L48.58,252.26 L48.93,251.32 L49.30,250.39 L49.67,249.46 L50.06,248.54 L50.46,247.63 L50.88,246.72 L51.31,245.82 L51.76,244.93 L52.24,244.05 L52.73,243.18 L53.24,242.32 L53.78,241.48 L54.33,240.65 L54.91,239.84 L55.51,239.04 L56.13,238.26 L56.78,237.51 L57.46,236.78 L58.16,236.07 L58.89,235.40 L59.65,234.74 L60.42,234.12 L61.22,233.52 L62.03,232.94 L62.87,232.39 L63.71,231.87 L64.58,231.37 L65.46,230.91 L66.36,230.47 L67.27,230.08 L68.20,229.71 L69.13,229.37 L70.08,229.06 L71.04,228.77 L72.00,228.50 L72.97,228.25 L73.94,228.01 L74.91,227.79 L75.89,227.58 L76.87,227.38 L77.85,227.19 L78.84,227.01 L79.82,226.83 L80.81,226.67 L81.79,226.50 L82.78,226.35 L83.77,226.20 L84.76,226.05 L85.75,225.91 L86.74,225.77 L87.73,225.63 L88.72,225.51 L89.72,225.38 L90.71,225.26 L91.70,225.15 L92.70,225.04 L93.69,224.94 L94.69,224.84 L95.68,224.75 L96.68,224.67 L97.68,224.59 L98.67,224.51 L99.67,224.44 L100.67,224.38 L101.67,224.32 L102.67,224.26 L103.67,224.22 L104.66,224.17 L105.66,224.14 L106.66,224.10 L107.66,224.07 L108.66,224.05 L109.66,224.03 L110.66,224.01 L111.66,223.99 L112.66,223.97 L113.66,223.96 L114.66,223.95 L115.66,223.93 L116.66,223.92 L117.66,223.91 L118.66,223.90 L119.67,223.89 L120.67,223.88 L121.67,223.88 L122.67,223.87 L123.67,223.87 L124.67,223.86 L125.67,223.86 L126.67,223.86 L127.67,223.86 L128.67,223.86 L129.67,223.87 L130.67,223.87 L131.67,223.87 L132.67,223.88 L133.67,223.89 L134.67,223.89 L135.67,223.90 L136.67,223.91 L137.67,223.91 L138.67,223.92 L139.67,223.93 L140.67,223.94 L141.67,223.95 L142.67,223.96 L143.67,223.97 L144.67,223.98 L145.67,223.99 L146.67,224.00 L147.67,224.01 L148.67,224.02 L149.67,224.03 L150.67,224.04 L151.67,224.05 L152.67,224.07 L153.67,224.08 L154.67,224.10 L155.67,224.11 L156.67,224.12 L157.67,224.14 L158.67,224.15 L159.67,224.17 L160.67,224.19 L161.67,224.20 L162.67,224.22 L163.67,224.24 L164.67,224.25 L165.67,224.27 L166.67,224.29 L167.67,224.31 L168.67,224.32 L169.67,224.34 L170.67,224.36 L171.67,224.38 L172.67,224.39 L173.67,224.41 L174.67,224.43 L175.67,224.45 L176.68,224.47 L177.68,224.48 L178.68,224.50 L179.68,224.52 L180.68,224.54 L181.68,224.56 L182.68,224.57 L183.68,224.59 L184.68,224.61 L185.68,224.63 L186.68,224.64 L187.68,224.66 L188.68,224.68 L189.68,224.69 L190.68,224.71 L191.68,224.73 L192.68,224.75 L193.68,224.76 L194.68,224.78 L195.68,224.80 L196.68,224.82 L197.68,224.83 L198.68,224.85 L199.68,224.87 L200.68,224.89 L201.68,224.91 L202.68,224.93 L203.68,224.94 L204.68,224.96 L205.68,224.98 L206.68,225.00 L207.68,225.02 L208.68,225.04 L209.68,225.06 L210.68,225.08 L211.68,225.09 L212.68,225.11 L213.68,225.13 L214.68,225.15 L215.68,225.17 L216.68,225.19 L217.68,225.21 L218.68,225.22 L219.68,225.24 L220.68,225.26 L221.68,225.28 L222.68,225.30 L223.68,225.31 L224.68,225.33 L225.68,225.35 L226.68,225.37 L227.68,225.38 L228.68,225.40 L229.68,225.42 L230.68,225.43 L231.68,225.45 L232.68,225.47 L233.68,225.48 L234.68,225.50 L235.68,225.51 L236.68,225.53 L237.68,225.54 L238.68,225.56 L239.68,225.57 L240.68,225.59 L241.68,225.60 L242.68,225.61 L243.68,225.63 L244.68,225.64 L245.68,225.65 L246.68,225.66 L247.68,225.67 L248.68,225.68 L249.68,225.70 L250.68,225.71 L251.68,225.72 L252.68,225.73 L253.68,225.73 L254.68,225.74 L255.68,225.75 L256.68,225.76 L257.68,225.77 L258.68,225.78 L259.69,225.78 L260.69,225.79 L261.69,225.80 L262.69,225.80 L263.69,225.81 L264.69,225.82 L265.69,225.82 L266.69,225.83 L267.69,225.83 L268.69,225.84 L269.69,225.84 L270.69,225.85 L271.69,225.85 L272.69,225.86 L273.69,225.86 L274.69,225.87 L275.69,225.87 L276.69,225.87 L277.69,225.88 L278.69,225.88 L279.69,225.88 L280.69,225.89 L281.69,225.89 L282.69,225.89 L283.69,225.90 L284.69,225.90 L285.69,225.90 L286.69,225.91 L287.69,225.91 L288.69,225.91 L289.69,225.91 L290.69,225.92 L291.69,225.92 L292.69,225.92 L293.69,225.92 L294.69,225.93 L295.69,225.93 L296.69,225.93 L297.69,225.93 L298.69,225.93 L299.69,225.94 L300.70,225.94 L301.70,225.94 L302.70,225.94 L303.70,225.95 L304.70,225.95 L305.70,225.95 L306.70,225.95 L307.70,225.96 L308.70,225.96 L309.70,225.96 L310.70,225.97 L311.70,225.97 L312.70,225.97 L313.70,225.97 L314.70,225.98 L315.70,225.98 L316.70,225.98 L317.70,225.99 L318.70,225.99 L319.70,226.00 L320.70,226.00" stroke="#e0433a" stroke-width="1.5" fill="none" stroke-linecap="round" stroke-linejoin="round"/>
<path d="M41.10,316.40 L41.13,315.40 L41.16,314.40 L41.19,313.40 L41.22,312.40 L41.25,311.40 L41.28,310.40 L41.32,309.40 L41.35,308.40 L41.38,307.40 L41.42,306.40 L41.46,305.40 L41.50,304.40 L41.54,303.40 L41.59,302.41 L41.64,301.41 L41.69,300.41 L41.74,299.41 L41.79,298.41 L41.84,297.41 L41.90,296.41 L41.96,295.41 L42.02,294.42 L42.08,293.42 L42.14,292.42 L42.21,291.42 L42.28,290.42 L42.36,289.43 L42.44,288.43 L42.53,287.43 L42.62,286.44 L42.71,285.44 L42.81,284.45 L42.92,283.45 L43.03,282.46 L43.15,281.47 L43.27,280.47 L43.40,279.48 L43.53,278.49 L43.68,277.50 L43.82,276.51 L43.98,275.52 L44.14,274.54 L44.31,273.55 L44.49,272.57 L44.67,271.58 L44.87,270.60 L45.07,269.62 L45.28,268.65 L45.50,267.67 L45.73,266.70 L45.96,265.72 L46.21,264.76 L46.47,263.79 L46.74,262.83 L47.02,261.87 L47.32,260.92 L47.64,259.97 L47.97,259.03 L48.33,258.09 L48.70,257.17 L49.10,256.25 L49.53,255.35 L49.98,254.46 L50.45,253.59 L50.96,252.72 L51.48,251.87 L52.02,251.03 L52.59,250.21 L53.17,249.40 L53.77,248.60 L54.38,247.81 L55.02,247.04 L55.67,246.29 L56.35,245.56 L57.05,244.85 L57.77,244.16 L58.51,243.50 L59.28,242.85 L60.06,242.23 L60.86,241.63 L61.67,241.05 L62.49,240.49 L63.33,239.94 L64.17,239.41 L65.03,238.90 L65.90,238.41 L66.78,237.94 L67.67,237.49 L68.58,237.06 L69.49,236.65 L70.41,236.26 L71.34,235.89 L72.27,235.54 L73.21,235.20 L74.16,234.89 L75.11,234.59 L76.07,234.31 L77.03,234.04 L78.00,233.79 L78.97,233.56 L79.95,233.34 L80.93,233.13 L81.91,232.94 L82.89,232.76 L83.88,232.60 L84.87,232.44 L85.85,232.29 L86.84,232.14 L87.83,232.00 L88.82,231.86 L89.81,231.73 L90.81,231.59 L91.80,231.47 L92.79,231.34 L93.78,231.22 L94.78,231.10 L95.77,230.98 L96.76,230.87 L97.76,230.75 L98.75,230.64 L99.75,230.53 L100.74,230.43 L101.73,230.32 L102.73,230.22 L103.72,230.12 L104.72,230.02 L105.72,229.92 L106.71,229.83 L107.71,229.74 L108.70,229.65 L109.70,229.56 L110.70,229.47 L111.69,229.39 L112.69,229.31 L113.69,229.24 L114.68,229.16 L115.68,229.10 L116.68,229.03 L117.68,228.97 L118.68,228.91 L119.68,228.85 L120.67,228.80 L121.67,228.74 L122.67,228.70 L123.67,228.65 L124.67,228.61 L125.67,228.57 L126.67,228.53 L127.67,228.49 L128.67,228.46 L129.67,228.43 L130.67,228.40 L131.67,228.37 L132.67,228.34 L133.67,228.31 L134.67,228.29 L135.67,228.26 L136.67,228.24 L137.67,228.21 L138.67,228.19 L139.67,228.16 L140.67,228.14 L141.67,228.12 L142.67,228.10 L143.67,228.07 L144.67,228.05 L145.67,228.03 L146.67,228.01 L147.67,227.99 L148.67,227.96 L149.67,227.94 L150.67,227.92 L151.67,227.90 L152.67,227.88 L153.67,227.86 L154.67,227.85 L155.67,227.83 L156.67,227.81 L157.67,227.79 L158.67,227.78 L159.67,227.76 L160.67,227.74 L161.67,227.73 L162.67,227.71 L163.67,227.70 L164.67,227.68 L165.67,227.67 L166.67,227.66 L167.67,227.64 L168.67,227.63 L169.67,227.62 L170.67,227.61 L171.67,227.59 L172.67,227.58 L173.67,227.57 L174.67,227.56 L175.67,227.55 L176.67,227.54 L177.67,227.52 L178.67,227.51 L179.67,227.50 L180.67,227.49 L181.67,227.48 L182.67,227.47 L183.67,227.46 L184.67,227.45 L185.67,227.44 L186.67,227.43 L187.67,227.42 L188.67,227.41 L189.67,227.40 L190.67,227.39 L191.67,227.39 L192.67,227.38 L193.67,227.37 L194.67,227.36 L195.67,227.35 L196.67,227.34 L197.67,227.33 L198.67,227.33 L199.67,227.32 L200.67,227.31 L201.67,227.30 L202.67,227.30 L203.67,227.29 L204.67,227.28 L205.67,227.28 L206.68,227.27 L207.68,227.27 L208.68,227.26 L209.68,227.25 L210.68,227.25 L211.68,227.24 L212.68,227.24 L213.68,227.23 L214.68,227.23 L215.68,227.22 L216.68,227.22 L217.68,227.21 L218.68,227.21 L219.68,227.20 L220.68,227.20 L221.68,227.19 L222.68,227.19 L223.68,227.18 L224.68,227.18 L225.68,227.18 L226.68,227.17 L227.68,227.17 L228.68,227.16 L229.68,227.16 L230.68,227.16 L231.68,227.15 L232.68,227.15 L233.68,227.15 L234.68,227.14 L235.68,227.14 L236.68,227.14 L237.68,227.13 L238.68,227.13 L239.68,227.13 L240.68,227.13 L241.68,227.12 L242.68,227.12 L243.68,227.12 L244.68,227.11 L245.68,227.11 L246.68,227.11 L247.68,227.11 L248.68,227.10 L249.68,227.10 L250.68,227.10 L251.68,227.10 L252.68,227.09 L253.69,227.09 L254.69,227.09 L255.69,227.09 L256.69,227.09 L257.69,227.09 L258.69,227.08 L259.69,227.08 L260.69,227.08 L261.69,227.08 L262.69,227.08 L263.69,227.08 L264.69,227.08 L265.69,227.08 L266.69,227.08 L267.69,227.08 L268.69,227.08 L269.69,227.08 L270.69,227.08 L271.69,227.08 L272.69,227.08 L273.69,227.08 L274.69,227.08 L275.69,227.08 L276.69,227.08 L277.69,227.08 L278.69,227.08 L279.69,227.08 L280.69,227.08 L281.69,227.08 L282.69,227.08 L283.69,227.08 L284.69,227.08 L285.69,227.08 L286.69,227.08 L287.69,227.08 L288.69,227.08 L289.69,227.08 L290.69,227.08 L291.69,227.08 L292.69,227.08 L293.69,227.08 L294.69,227.09 L295.69,227.09 L296.69,227.09 L297.69,227.09 L298.70,227.09 L299.70,227.09 L300.70,227.09 L301.70,227.09 L302.70,227.09 L303.70,227.09 L304.70,227.09 L305.70,227.09 L306.70,227.09 L307.70,227.10 L308.70,227.10 L309.70,227.10 L310.70,227.10 L311.70,227.10 L312.70,227.10 L313.70,227.10 L314.70,227.10 L315.70,227.10 L316.70,227.10 L317.70,227.10 L318.70,227.10 L319.70,227.10 L320.70,227.10" stroke="#3a9a55" stroke-width="1.5" fill="none" stroke-linecap="round" stroke-linejoin="round"/>
<text class="lab" x="49.00" y="193.00" font-size="15.5" font-family="Liberation Serif, serif" fill="#1a1a1a">A</text>
<text class="lab" x="59.80" y="215.80" font-size="15.5" font-family="Liberation Serif, serif" fill="#1a1a1a">C</text>
<text class="lab" x="71.80" y="223.30" font-size="15.5" font-family="Liberation Serif, serif" fill="#1a1a1a">B</text>
<text class="lab" x="75.80" y="248.40" font-size="15.5" font-family="Liberation Serif, serif" fill="#1a1a1a">D</text>
<text transform="translate(154.50,334.00) skewX(-7.50)" font-size="14" font-family="Liberation Serif, Noto Serif CJK SC, serif" letter-spacing="0.55" fill="#1a1a1a">轴向应变</text><text x="212.70" y="334.00" font-size="14" font-family="Liberation Serif, serif" fill="#1a1a1a">,</text><text x="219.10" y="334.70" font-size="14" font-family="Liberation Serif, serif" font-style="italic" fill="#1a1a1a">ε</text><text x="225.80" y="338.10" font-size="10" font-family="Liberation Serif, serif" fill="#1a1a1a">a</text>
<g transform="translate(31.40,276.40) rotate(-90)"><text transform="translate(0.00,0.00) skewX(-7.50)" font-size="14" font-family="Liberation Serif, Noto Serif CJK SC, serif" letter-spacing="0.55" fill="#1a1a1a">应力比</text><text x="42.60" y="0.00" font-size="14" font-family="Liberation Serif, serif" fill="#1a1a1a">,</text><text x="50.00" y="0.00" font-size="14" font-family="Liberation Serif, serif" font-style="italic" fill="#1a1a1a">η</text></g>
<text x="356.00" y="185.30" font-size="15" font-family="Liberation Serif, serif" fill="#1a1a1a">d</text>
<line x1="391.50" y1="317.75" x2="391.50" y2="188.80" stroke="#8a837e" stroke-width="1.6"/>
<line x1="390.70" y1="316.95" x2="691.10" y2="316.95" stroke="#8a837e" stroke-width="1.6"/>
<path d="M390.75,184.80 L392.25,184.80 L393.55,191.10 Q391.50,190.50 389.45,191.10 Z" fill="#111"/>
<path d="M695.10,316.20 L695.10,317.70 L688.80,319.00 Q689.40,316.95 688.80,314.90 Z" fill="#111"/>
<path d="M398.50,196.74 L399.47,196.98 L400.44,197.22 L401.41,197.46 L402.39,197.70 L403.36,197.93 L404.33,198.17 L405.30,198.41 L406.27,198.65 L407.24,198.90 L408.21,199.14 L409.18,199.38 L410.15,199.62 L411.12,199.86 L412.09,200.11 L413.06,200.35 L414.03,200.60 L415.00,200.84 L415.97,201.08 L416.94,201.33 L417.91,201.58 L418.88,201.82 L419.85,202.07 L420.82,202.31 L421.79,202.56 L422.76,202.81 L423.73,203.06 L424.69,203.30 L425.66,203.55 L426.63,203.80 L427.60,204.05 L428.57,204.30 L429.54,204.55 L430.51,204.80 L431.47,205.05 L432.44,205.30 L433.41,205.55 L434.38,205.80 L435.35,206.05 L436.32,206.30 L437.28,206.56 L438.25,206.81 L439.22,207.06 L440.19,207.31 L441.15,207.56 L442.12,207.82 L443.09,208.07 L444.06,208.32 L445.03,208.58 L445.99,208.83 L446.96,209.08 L447.93,209.34 L448.90,209.59 L449.86,209.85 L450.83,210.10 L451.80,210.35 L452.76,210.61 L453.73,210.86 L454.70,211.12 L455.67,211.37 L456.63,211.63 L457.60,211.88 L458.57,212.14 L459.53,212.39 L460.50,212.65 L461.47,212.91 L462.43,213.16 L463.40,213.42 L464.37,213.67 L465.34,213.93 L466.30,214.19 L467.27,214.44 L468.24,214.70 L469.20,214.95 L470.17,215.21 L471.14,215.47 L472.10,215.72 L473.07,215.98 L474.04,216.23 L475.00,216.49 L475.97,216.75 L476.94,217.00 L477.90,217.26 L478.87,217.52 L479.84,217.77 L480.80,218.03 L481.77,218.28 L482.74,218.54 L483.70,218.80 L484.67,219.05 L485.64,219.31 L486.60,219.56 L487.57,219.82 L488.54,220.07 L489.51,220.33 L490.47,220.59 L491.44,220.84 L492.41,221.10 L493.37,221.35 L494.34,221.61 L495.31,221.86 L496.28,222.12 L497.24,222.37 L498.21,222.63 L499.18,222.88 L500.14,223.13 L501.11,223.39 L502.08,223.64 L503.05,223.89 L504.01,224.15 L504.98,224.40 L505.95,224.65 L506.92,224.91 L507.88,225.16 L508.85,225.41 L509.82,225.66 L510.79,225.92 L511.76,226.17 L512.72,226.42 L513.69,226.67 L514.66,226.92 L515.63,227.17 L516.60,227.42 L517.57,227.67 L518.53,227.92 L519.50,228.17 L520.47,228.42 L521.44,228.67 L522.41,228.92 L523.38,229.17 L524.35,229.42 L525.32,229.66 L526.28,229.91 L527.25,230.16 L528.22,230.41 L529.19,230.65 L530.16,230.90 L531.13,231.14 L532.10,231.39 L533.07,231.64 L534.04,231.88 L535.01,232.12 L535.98,232.37 L536.95,232.61 L537.92,232.85 L538.89,233.10 L539.86,233.34 L540.83,233.58 L541.80,233.82 L542.77,234.06 L543.74,234.30 L544.71,234.54 L545.68,234.78 L546.66,235.02 L547.63,235.26 L548.60,235.50 L549.57,235.74 L550.54,235.98 L551.51,236.21 L552.49,236.45 L553.46,236.68 L554.43,236.92 L555.40,237.15 L556.37,237.39 L557.35,237.62 L558.32,237.86 L559.29,238.09 L560.26,238.32 L561.24,238.55 L562.21,238.78 L563.18,239.01 L564.16,239.24 L565.13,239.47 L566.10,239.70 L567.08,239.93 L568.05,240.16 L569.03,240.38 L570.00,240.61 L570.97,240.84 L571.95,241.06 L572.92,241.28 L573.90,241.51 L574.87,241.73 L575.85,241.95 L576.82,242.18 L577.80,242.40 L578.78,242.62 L579.75,242.84 L580.73,243.06 L581.70,243.27 L582.68,243.49 L583.66,243.71 L584.63,243.92 L585.61,244.14 L586.59,244.35 L587.56,244.57 L588.54,244.78 L589.52,244.99 L590.49,245.21 L591.47,245.42 L592.45,245.63 L593.43,245.84 L594.41,246.04 L595.38,246.25 L596.36,246.46 L597.34,246.67 L598.32,246.87 L599.30,247.08 L600.28,247.28 L601.26,247.48 L602.24,247.68 L603.22,247.88 L604.20,248.09 L605.18,248.28 L606.16,248.48 L607.14,248.68 L608.12,248.88 L609.10,249.07 L610.08,249.27 L611.06,249.46 L612.04,249.66 L613.02,249.85 L614.01,250.04 L614.99,250.23 L615.97,250.42 L616.95,250.61 L617.94,250.79 L618.92,250.98 L619.90,251.17 L620.88,251.35 L621.87,251.53 L622.85,251.72 L623.83,251.90 L624.82,252.08 L625.80,252.26 L626.79,252.44 L627.77,252.61 L628.75,252.79 L629.74,252.97 L630.72,253.14 L631.71,253.31 L632.69,253.49 L633.68,253.66 L634.67,253.83 L635.65,254.00 L636.64,254.16 L637.62,254.33 L638.61,254.50 L639.60,254.66 L640.58,254.82 L641.57,254.99 L642.56,255.15 L643.54,255.31 L644.53,255.47 L645.52,255.62 L646.51,255.78 L647.50,255.93 L648.48,256.09 L649.47,256.24 L650.46,256.39 L651.45,256.54 L652.44,256.69 L653.43,256.84 L654.42,256.99 L655.41,257.13 L656.40,257.28 L657.39,257.42 L658.38,257.56 L659.37,257.70 L660.36,257.84 L661.35,257.98 L662.34,258.11 L663.33,258.25 L664.32,258.38 L665.31,258.51 L666.30,258.65 L667.30,258.78 L668.29,258.90 L669.28,259.03 L670.27,259.16 L671.26,259.28 L672.26,259.40 L673.25,259.53 L674.24,259.64 L675.24,259.76 L676.23,259.88 L677.22,259.99 L678.22,260.11 L679.21,260.22 L680.20,260.33 L680.70,260.39" stroke="#332e2b" stroke-width="1.5" fill="none" stroke-linecap="round" stroke-linejoin="round"/>
<path d="M426.40,204.10 L426.50,205.10 L426.61,206.10 L426.71,207.10 L426.81,208.10 L426.91,209.10 L427.01,210.10 L427.11,211.09 L427.21,212.09 L427.31,213.09 L427.41,214.09 L427.52,215.09 L427.62,216.09 L427.73,217.09 L427.84,218.09 L427.95,219.09 L428.06,220.08 L428.18,221.08 L428.30,222.08 L428.42,223.08 L428.54,224.07 L428.66,225.07 L428.79,226.07 L428.92,227.06 L429.04,228.06 L429.17,229.05 L429.30,230.05 L429.43,231.05 L429.57,232.04 L429.70,233.04 L429.84,234.03 L429.97,235.03 L430.11,236.02 L430.24,237.02 L430.38,238.01 L430.52,239.01 L430.66,240.00 L430.81,240.99 L430.95,241.99 L431.10,242.98 L431.24,243.98 L431.39,244.97 L431.54,245.96 L431.69,246.96 L431.84,247.95 L431.99,248.94 L432.14,249.93 L432.30,250.93 L432.49,251.91 L432.70,252.90 L432.91,253.88 L433.08,254.87 L433.19,255.87 L433.19,256.87 L433.12,257.87 L432.96,258.86 L432.65,259.82 L432.14,260.68 L431.46,261.42 L430.66,262.02 L429.77,262.49 L428.83,262.82 L427.84,263.03 L426.85,263.16 L425.85,263.24 L424.84,263.29 L423.84,263.32 L422.83,263.35 L421.83,263.38 L420.83,263.42 L419.82,263.45 L418.82,263.45 L417.81,263.44 L416.81,263.43 L415.81,263.41 L414.80,263.40 L414.30,263.40" stroke="#e3a63f" stroke-width="1.5" fill="none" stroke-linecap="round" stroke-linejoin="round"/>
<path d="M484.10,215.70 L485.10,215.73 L486.11,215.75 L487.11,215.77 L488.12,215.78 L489.12,215.80 L490.13,215.82 L491.13,215.84 L492.14,215.86 L493.14,215.90 L494.15,215.94 L495.15,216.00 L496.15,216.07 L497.15,216.16 L498.15,216.25 L499.16,216.35 L500.15,216.45 L501.15,216.56 L502.15,216.68 L503.15,216.81 L504.14,216.95 L505.14,217.09 L506.13,217.25 L507.12,217.41 L508.11,217.59 L509.10,217.78 L510.08,217.98 L511.06,218.20 L512.04,218.43 L513.02,218.68 L513.99,218.93 L514.96,219.20 L515.92,219.49 L516.88,219.78 L517.84,220.09 L518.79,220.41 L519.74,220.75 L520.68,221.10 L521.62,221.46 L522.55,221.83 L523.47,222.23 L524.39,222.65 L525.29,223.10 L526.17,223.58 L527.02,224.11 L527.86,224.67 L528.65,225.29 L529.38,225.97 L529.99,226.77 L530.46,227.66 L530.70,228.10" stroke="#3a9a55" stroke-width="1.5" fill="none" stroke-linecap="round" stroke-linejoin="round"/>
<path d="M532.50,233.00 L532.97,233.88 L533.44,234.77 L533.91,235.65 L534.38,236.53 L534.86,237.41 L535.33,238.29 L535.80,239.18 L536.27,240.06 L536.73,240.95 L537.20,241.83 L537.66,242.72 L538.11,243.61 L538.57,244.50 L539.03,245.39 L539.48,246.28 L539.93,247.17 L540.38,248.07 L540.83,248.96 L541.28,249.85 L541.73,250.75 L542.18,251.65 L542.62,252.54 L543.06,253.44 L543.50,254.34 L543.94,255.24 L544.37,256.14 L544.81,257.04 L545.24,257.94 L545.68,258.84 L546.12,259.74 L546.56,260.64 L546.99,261.54 L547.42,262.44 L547.84,263.35 L548.24,264.27 L548.63,265.19 L549.01,266.12 L549.36,267.05 L549.70,267.99 L550.06,268.93 L550.40,269.87 L550.72,270.81 L551.00,271.78 L551.21,272.75 L551.31,273.75 L551.26,274.75 L551.10,275.73 L550.84,276.70 L550.46,277.62 L549.96,278.49 L549.33,279.27 L548.58,279.92 L547.73,280.46 L546.83,280.89 L545.90,281.26 L544.95,281.57 L543.99,281.86 L543.03,282.11 L542.06,282.35 L541.08,282.55 L540.09,282.71 L539.10,282.84 L538.10,282.94 L537.10,283.03 L536.11,283.10 L535.11,283.16 L534.11,283.20 L533.11,283.25 L532.11,283.29 L531.11,283.33 L530.11,283.37 L529.11,283.42 L528.11,283.45 L527.11,283.48 L526.11,283.51 L525.11,283.52 L524.11,283.54 L523.11,283.55 L522.11,283.55 L521.11,283.55 L520.11,283.55 L519.11,283.55 L518.11,283.54 L517.11,283.54 L516.11,283.53 L515.11,283.52 L514.11,283.51 L513.11,283.49 L512.11,283.48 L511.11,283.47 L510.11,283.46 L509.11,283.44 L508.11,283.43 L507.11,283.42 L506.11,283.41 L505.11,283.40 L504.10,283.39 L503.10,283.39 L502.10,283.38 L501.10,283.36 L500.10,283.35 L499.10,283.34 L498.10,283.33 L497.10,283.31 L496.10,283.30 L495.10,283.28 L494.10,283.26 L493.10,283.25 L492.10,283.23 L491.10,283.21 L490.10,283.20 L489.10,283.18 L488.10,283.16 L487.10,283.15 L486.10,283.13 L485.10,283.11 L484.10,283.10" stroke="#4050a0" stroke-width="1.5" fill="none" stroke-linecap="round" stroke-linejoin="round"/>
<path d="M576.90,262.70 L577.90,262.70 L578.90,262.70 L579.91,262.69 L580.91,262.68 L581.91,262.67 L582.91,262.67 L583.91,262.66 L584.92,262.65 L585.92,262.64 L586.92,262.64 L587.92,262.63 L588.93,262.63 L589.93,262.63 L590.93,262.63 L591.93,262.64 L592.93,262.65 L593.94,262.67 L594.94,262.68 L595.94,262.71 L596.94,262.73 L597.94,262.76 L598.94,262.79 L599.95,262.83 L600.95,262.87 L601.95,262.91 L602.95,262.95 L603.95,263.00 L604.95,263.04 L605.95,263.09 L606.95,263.14 L607.95,263.19 L608.96,263.24 L609.96,263.30 L610.96,263.35 L611.96,263.40 L612.96,263.46 L613.96,263.51 L614.96,263.56 L615.96,263.62 L616.96,263.67 L617.96,263.72 L618.96,263.77 L619.96,263.82 L620.96,263.87 L621.97,263.92 L622.97,263.97 L623.97,264.02 L624.97,264.07 L625.97,264.12 L626.97,264.17 L627.97,264.22 L628.97,264.27 L629.97,264.32 L630.97,264.37 L631.97,264.42 L632.98,264.47 L633.98,264.52 L634.98,264.57 L635.98,264.62 L636.98,264.67 L637.98,264.73 L638.98,264.78 L639.98,264.83 L640.98,264.88 L641.98,264.93 L642.98,264.98 L643.98,265.03 L644.98,265.09 L645.99,265.14 L646.99,265.19 L647.99,265.24 L648.99,265.30 L649.99,265.35 L650.99,265.41 L651.99,265.47 L652.99,265.52 L653.99,265.58 L654.99,265.64 L655.99,265.70 L656.99,265.76 L657.99,265.81 L658.99,265.87 L659.99,265.92 L660.99,265.97 L662.00,266.02 L663.00,266.06 L664.00,266.09 L665.00,266.13 L666.00,266.18 L667.00,266.25 L668.00,266.30 L669.00,266.30 L670.00,266.20 L670.97,265.97 L671.92,265.64 L672.81,265.18 L673.54,264.51 L673.76,263.54 L673.62,262.55 L673.30,261.61 L672.71,260.80 L672.00,260.10" stroke="#e0433a" stroke-width="1.5" fill="none" stroke-linecap="round" stroke-linejoin="round"/>
<text class="lab" x="433.50" y="238.80" font-size="15.5" font-family="Liberation Serif, serif" fill="#1a1a1a">A</text>
<text class="lab" x="508.80" y="214.50" font-size="15.5" font-family="Liberation Serif, serif" fill="#1a1a1a">D</text>
<text class="lab" x="545.70" y="254.80" font-size="15.5" font-family="Liberation Serif, serif" fill="#1a1a1a">C</text>
<text class="lab" x="630.70" y="278.60" font-size="15.5" font-family="Liberation Serif, serif" fill="#1a1a1a">B</text>
<text transform="translate(621.80,247.10)" font-size="14" font-family="Liberation Serif, Noto Serif CJK SC, serif" letter-spacing="0.7" fill="#1a1a1a">临界状态线</text>
<text transform="translate(487.80,333.70) skewX(-7.50)" font-size="14" font-family="Liberation Serif, Noto Serif CJK SC, serif" letter-spacing="0.55" fill="#1a1a1a">平均有效应力</text><text x="575.40" y="333.70" font-size="14" font-family="Liberation Serif, serif" fill="#1a1a1a">,</text><text x="581.60" y="333.70" font-size="14" font-family="Liberation Serif, serif" font-style="italic" fill="#1a1a1a">p′</text>
<g transform="translate(384.30,273.60) rotate(-90)"><text transform="translate(0.00,0.00)" font-size="13" font-family="Liberation Serif, Noto Serif CJK SC, serif" fill="#1a1a1a">孔隙比</text><text x="38.60" y="0.00" font-size="13" font-family="Liberation Serif, serif" fill="#1a1a1a">,</text><text x="47.30" y="0.00" font-size="13" font-family="Liberation Serif, serif" font-style="italic" fill="#1a1a1a">e</text></g>
<text x="9.50" y="359.80" font-size="15" font-family="Liberation Serif, serif" fill="#1a1a1a">e</text>
<line x1="41.00" y1="494.20" x2="41.00" y2="365.10" stroke="#8a837e" stroke-width="1.6"/>
<line x1="40.20" y1="493.40" x2="340.10" y2="493.40" stroke="#8a837e" stroke-width="1.6"/>
<path d="M40.25,361.10 L41.75,361.10 L43.05,367.40 Q41.00,366.80 38.95,367.40 Z" fill="#111"/>
<path d="M344.10,492.65 L344.10,494.15 L337.80,495.45 Q338.40,493.40 337.80,491.35 Z" fill="#111"/>
<path d="M41.10,380.79 L42.50,380.06 L43.91,379.35 L45.31,378.68 L46.72,378.02 L48.12,377.40 L49.53,376.80 L50.93,376.23 L52.34,375.68 L53.74,375.15 L55.15,374.65 L56.55,374.17 L57.95,373.72 L59.36,373.28 L60.76,372.87 L62.17,372.47 L63.57,372.09 L64.98,371.74 L66.38,371.40 L67.79,371.07 L69.19,370.77 L70.59,370.48 L72.00,370.21 L73.40,369.95 L74.81,369.70 L76.21,369.47 L77.62,369.25 L79.02,369.05 L80.43,368.85 L81.83,368.67 L83.24,368.49 L84.64,368.33 L86.04,368.17 L87.45,368.02 L88.85,367.88 L90.26,367.75 L91.66,367.62 L93.07,367.50 L94.47,367.38 L95.88,367.27 L97.28,367.16 L98.69,367.06 L100.09,366.95 L101.49,366.85 L102.90,366.75 L104.30,366.65 L105.71,366.56 L107.11,366.46 L108.52,366.37 L109.92,366.28 L111.33,366.18 L112.73,366.09 L114.14,366.01 L115.54,365.92 L116.94,365.84 L118.35,365.75 L119.75,365.67 L121.16,365.59 L122.56,365.51 L123.97,365.43 L125.37,365.36 L126.78,365.28 L128.18,365.21 L129.58,365.13 L130.99,365.06 L132.39,364.99 L133.80,364.92 L135.20,364.86 L136.61,364.79 L138.01,364.72 L139.42,364.66 L140.82,364.60 L142.23,364.54 L143.63,364.48 L145.03,364.42 L146.44,364.36 L147.84,364.30 L149.25,364.25 L150.65,364.19 L152.06,364.14 L153.46,364.08 L154.87,364.03 L156.27,363.98 L157.68,363.93 L159.08,363.88 L160.48,363.84 L161.89,363.79 L163.29,363.75 L164.70,363.70 L166.10,363.66 L167.51,363.61 L168.91,363.57 L170.32,363.53 L171.72,363.49 L173.13,363.45 L174.53,363.41 L175.93,363.38 L177.34,363.34 L178.74,363.30 L180.15,363.27 L181.55,363.23 L182.96,363.20 L184.36,363.17 L185.77,363.14 L187.17,363.10 L188.57,363.07 L189.98,363.04 L191.38,363.01 L192.79,362.98 L194.19,362.96 L195.60,362.93 L197.00,362.90 L198.41,362.88 L199.81,362.85 L201.22,362.82 L202.62,362.80 L204.02,362.78 L205.43,362.75 L206.83,362.73 L208.24,362.71 L209.64,362.68 L211.05,362.66 L212.45,362.64 L213.86,362.62 L215.26,362.60 L216.67,362.58 L218.07,362.56 L219.47,362.54 L220.88,362.52 L222.28,362.50 L223.69,362.49 L225.09,362.47 L226.50,362.45 L227.90,362.43 L229.31,362.42 L230.71,362.40 L232.12,362.38 L233.52,362.37 L234.92,362.35 L236.33,362.34 L237.73,362.32 L239.14,362.30 L240.54,362.29 L241.95,362.27 L243.35,362.26 L244.76,362.24 L246.16,362.23 L247.56,362.21 L248.97,362.20 L250.37,362.18 L251.78,362.17 L253.18,362.16 L254.59,362.14 L255.99,362.13 L257.40,362.11 L258.80,362.10 L260.21,362.08 L261.61,362.07 L263.01,362.05 L264.42,362.04 L265.82,362.02 L267.23,362.01 L268.63,361.99 L270.04,361.98 L271.44,361.96 L272.85,361.94 L274.25,361.93 L275.66,361.91 L277.06,361.90 L278.46,361.88 L279.87,361.86 L281.27,361.84 L282.68,361.83 L284.08,361.81 L285.49,361.79 L286.89,361.77 L288.30,361.75 L289.70,361.73 L291.11,361.71 L292.51,361.69 L293.91,361.67 L295.32,361.65 L296.72,361.63 L298.13,361.61 L299.53,361.59 L300.94,361.57 L302.34,361.54 L303.75,361.52 L305.15,361.49 L306.55,361.47 L307.96,361.44 L309.36,361.42 L310.77,361.39 L312.17,361.37 L313.58,361.34 L314.98,361.31 L316.39,361.28 L317.79,361.25 L319.20,361.22 L320.60,361.19" stroke="#3a9a55" stroke-width="1.5" fill="none" stroke-linecap="round" stroke-linejoin="round"/>
<path d="M41.10,380.92 L42.50,380.20 L43.91,379.54 L45.31,378.95 L46.72,378.42 L48.12,377.95 L49.53,377.54 L50.93,377.17 L52.34,376.86 L53.74,376.58 L55.15,376.35 L56.55,376.15 L57.95,375.98 L59.36,375.84 L60.76,375.73 L62.17,375.63 L63.57,375.56 L64.98,375.50 L66.38,375.46 L67.79,375.44 L69.19,375.43 L70.59,375.43 L72.00,375.45 L73.40,375.49 L74.81,375.53 L76.21,375.59 L77.62,375.66 L79.02,375.74 L80.43,375.83 L81.83,375.93 L83.24,376.03 L84.64,376.15 L86.04,376.27 L87.45,376.39 L88.85,376.52 L90.26,376.66 L91.66,376.80 L93.07,376.94 L94.47,377.09 L95.88,377.23 L97.28,377.38 L98.69,377.52 L100.09,377.67 L101.49,377.81 L102.90,377.96 L104.30,378.10 L105.71,378.24 L107.11,378.37 L108.52,378.51 L109.92,378.64 L111.33,378.78 L112.73,378.91 L114.14,379.04 L115.54,379.16 L116.94,379.29 L118.35,379.42 L119.75,379.54 L121.16,379.66 L122.56,379.78 L123.97,379.90 L125.37,380.02 L126.78,380.13 L128.18,380.25 L129.58,380.36 L130.99,380.48 L132.39,380.59 L133.80,380.69 L135.20,380.80 L136.61,380.91 L138.01,381.01 L139.42,381.12 L140.82,381.22 L142.23,381.32 L143.63,381.42 L145.03,381.52 L146.44,381.62 L147.84,381.72 L149.25,381.81 L150.65,381.90 L152.06,382.00 L153.46,382.09 L154.87,382.18 L156.27,382.27 L157.68,382.36 L159.08,382.44 L160.48,382.53 L161.89,382.61 L163.29,382.70 L164.70,382.78 L166.10,382.86 L167.51,382.94 L168.91,383.02 L170.32,383.10 L171.72,383.17 L173.13,383.25 L174.53,383.33 L175.93,383.40 L177.34,383.47 L178.74,383.54 L180.15,383.62 L181.55,383.69 L182.96,383.76 L184.36,383.82 L185.77,383.89 L187.17,383.96 L188.57,384.02 L189.98,384.09 L191.38,384.15 L192.79,384.22 L194.19,384.28 L195.60,384.34 L197.00,384.40 L198.41,384.46 L199.81,384.52 L201.22,384.58 L202.62,384.64 L204.02,384.69 L205.43,384.75 L206.83,384.80 L208.24,384.86 L209.64,384.91 L211.05,384.97 L212.45,385.02 L213.86,385.07 L215.26,385.12 L216.67,385.17 L218.07,385.22 L219.47,385.27 L220.88,385.32 L222.28,385.37 L223.69,385.42 L225.09,385.47 L226.50,385.51 L227.90,385.56 L229.31,385.60 L230.71,385.65 L232.12,385.69 L233.52,385.74 L234.92,385.78 L236.33,385.83 L237.73,385.87 L239.14,385.91 L240.54,385.95 L241.95,386.00 L243.35,386.04 L244.76,386.08 L246.16,386.12 L247.56,386.16 L248.97,386.20 L250.37,386.24 L251.78,386.28 L253.18,386.32 L254.59,386.35 L255.99,386.39 L257.40,386.43 L258.80,386.47 L260.21,386.51 L261.61,386.54 L263.01,386.58 L264.42,386.62 L265.82,386.66 L267.23,386.69 L268.63,386.73 L270.04,386.77 L271.44,386.80 L272.85,386.84 L274.25,386.87 L275.66,386.91 L277.06,386.95 L278.46,386.98 L279.87,387.02 L281.27,387.05 L282.68,387.09 L284.08,387.12 L285.49,387.16 L286.89,387.19 L288.30,387.23 L289.70,387.27 L291.11,387.30 L292.51,387.34 L293.91,387.37 L295.32,387.41 L296.72,387.44 L298.13,387.48 L299.53,387.52 L300.94,387.55 L302.34,387.59 L303.75,387.63 L305.15,387.66 L306.55,387.70 L307.96,387.74 L309.36,387.77 L310.77,387.81 L312.17,387.85 L313.58,387.89 L314.98,387.93 L316.39,387.96 L317.79,388.00 L319.20,388.04 L320.60,388.08" stroke="#e0433a" stroke-width="1.5" fill="none" stroke-linecap="round" stroke-linejoin="round"/>
<path d="M41.10,381.25 L42.51,381.20 L43.91,381.33 L45.32,381.61 L46.72,382.04 L48.13,382.59 L49.53,383.25 L50.94,384.01 L52.34,384.84 L53.75,385.73 L55.15,386.67 L56.56,387.64 L57.96,388.62 L59.37,389.62 L60.77,390.62 L62.18,391.63 L63.58,392.65 L64.99,393.68 L66.39,394.71 L67.80,395.74 L69.20,396.77 L70.61,397.81 L72.01,398.84 L73.42,399.87 L74.82,400.89 L76.23,401.91 L77.63,402.93 L79.04,403.93 L80.44,404.93 L81.85,405.92 L83.25,406.89 L84.66,407.85 L86.06,408.80 L87.47,409.73 L88.87,410.64 L90.28,411.55 L91.68,412.44 L93.09,413.31 L94.49,414.17 L95.90,415.02 L97.30,415.85 L98.71,416.68 L100.11,417.49 L101.52,418.28 L102.92,419.07 L104.33,419.84 L105.73,420.60 L107.14,421.35 L108.54,422.08 L109.95,422.81 L111.35,423.52 L112.76,424.23 L114.16,424.92 L115.57,425.60 L116.97,426.27 L118.38,426.94 L119.78,427.59 L121.19,428.23 L122.59,428.86 L124.00,429.49 L125.40,430.10 L126.81,430.71 L128.21,431.30 L129.62,431.89 L131.02,432.47 L132.43,433.04 L133.83,433.60 L135.24,434.16 L136.64,434.71 L138.05,435.25 L139.45,435.78 L140.86,436.31 L142.26,436.83 L143.67,437.34 L145.07,437.85 L146.48,438.35 L147.88,438.85 L149.29,439.33 L150.69,439.81 L152.10,440.29 L153.50,440.76 L154.91,441.22 L156.31,441.68 L157.72,442.13 L159.12,442.57 L160.53,443.01 L161.93,443.44 L163.34,443.87 L164.74,444.29 L166.15,444.70 L167.55,445.11 L168.96,445.51 L170.36,445.91 L171.77,446.30 L173.17,446.69 L174.58,447.07 L175.98,447.45 L177.39,447.82 L178.79,448.18 L180.20,448.54 L181.60,448.90 L183.01,449.25 L184.41,449.59 L185.82,449.93 L187.22,450.27 L188.63,450.60 L190.03,450.92 L191.44,451.24 L192.84,451.56 L194.25,451.87 L195.65,452.18 L197.06,452.48 L198.46,452.78 L199.87,453.07 L201.27,453.36 L202.68,453.65 L204.08,453.93 L205.49,454.20 L206.89,454.48 L208.30,454.74 L209.70,455.01 L211.11,455.27 L212.51,455.53 L213.92,455.78 L215.32,456.03 L216.73,456.27 L218.13,456.51 L219.54,456.75 L220.94,456.99 L222.35,457.22 L223.75,457.45 L225.16,457.67 L226.56,457.89 L227.97,458.11 L229.37,458.32 L230.78,458.53 L232.18,458.74 L233.59,458.95 L234.99,459.15 L236.40,459.35 L237.80,459.55 L239.21,459.74 L240.61,459.93 L242.02,460.12 L243.42,460.31 L244.83,460.49 L246.23,460.67 L247.64,460.85 L249.04,461.02 L250.45,461.20 L251.85,461.37 L253.26,461.54 L254.66,461.71 L256.07,461.87 L257.47,462.03 L258.88,462.19 L260.28,462.35 L261.69,462.51 L263.09,462.66 L264.50,462.82 L265.90,462.97 L267.31,463.12 L268.71,463.27 L270.12,463.41 L271.52,463.56 L272.93,463.70 L274.33,463.85 L275.74,463.99 L277.14,464.13 L278.55,464.27 L279.95,464.40 L281.36,464.54 L282.76,464.68 L284.17,464.81 L285.57,464.95 L286.98,465.08 L288.38,465.21 L289.79,465.34 L291.19,465.47 L292.60,465.60 L294.00,465.73 L295.41,465.86 L296.81,465.99 L298.22,466.12 L299.62,466.25 L301.03,466.37 L302.43,466.50 L303.84,466.63 L305.24,466.75 L306.65,466.88 L308.05,467.01 L309.46,467.13 L310.86,467.26 L312.27,467.39 L313.67,467.52 L315.08,467.64 L316.48,467.77 L317.89,467.90 L319.29,468.03 L320.70,468.16" stroke="#4050a0" stroke-width="1.5" fill="none" stroke-linecap="round" stroke-linejoin="round"/>
<path d="M41.10,381.35 L42.51,381.38 L43.91,381.74 L45.32,382.40 L46.72,383.31 L48.13,384.44 L49.53,385.72 L50.94,387.13 L52.34,388.61 L53.75,390.13 L55.15,391.64 L56.56,393.15 L57.96,394.64 L59.37,396.13 L60.77,397.60 L62.18,399.06 L63.58,400.51 L64.99,401.93 L66.39,403.34 L67.80,404.72 L69.20,406.08 L70.61,407.41 L72.01,408.72 L73.42,410.01 L74.82,411.27 L76.23,412.50 L77.63,413.72 L79.04,414.91 L80.44,416.07 L81.85,417.22 L83.25,418.34 L84.66,419.44 L86.06,420.52 L87.47,421.58 L88.87,422.61 L90.28,423.63 L91.68,424.63 L93.09,425.61 L94.49,426.56 L95.90,427.50 L97.30,428.42 L98.71,429.33 L100.11,430.21 L101.52,431.08 L102.92,431.93 L104.33,432.77 L105.73,433.58 L107.14,434.38 L108.54,435.17 L109.95,435.94 L111.35,436.70 L112.76,437.44 L114.16,438.17 L115.57,438.88 L116.97,439.58 L118.38,440.27 L119.78,440.94 L121.19,441.60 L122.59,442.25 L124.00,442.89 L125.40,443.52 L126.81,444.13 L128.21,444.74 L129.62,445.34 L131.02,445.92 L132.43,446.50 L133.83,447.06 L135.24,447.62 L136.64,448.17 L138.05,448.71 L139.45,449.25 L140.86,449.78 L142.26,450.30 L143.67,450.81 L145.07,451.32 L146.48,451.81 L147.88,452.31 L149.29,452.79 L150.69,453.27 L152.10,453.75 L153.50,454.21 L154.91,454.68 L156.31,455.13 L157.72,455.58 L159.12,456.02 L160.53,456.46 L161.93,456.89 L163.34,457.31 L164.74,457.73 L166.15,458.14 L167.55,458.55 L168.96,458.95 L170.36,459.35 L171.77,459.74 L173.17,460.13 L174.58,460.51 L175.98,460.88 L177.39,461.25 L178.79,461.62 L180.20,461.98 L181.60,462.33 L183.01,462.68 L184.41,463.03 L185.82,463.37 L187.22,463.71 L188.63,464.04 L190.03,464.36 L191.44,464.69 L192.84,465.01 L194.25,465.32 L195.65,465.63 L197.06,465.94 L198.46,466.24 L199.87,466.54 L201.27,466.83 L202.68,467.12 L204.08,467.41 L205.49,467.70 L206.89,467.97 L208.30,468.25 L209.70,468.52 L211.11,468.79 L212.51,469.06 L213.92,469.32 L215.32,469.58 L216.73,469.84 L218.13,470.10 L219.54,470.35 L220.94,470.59 L222.35,470.84 L223.75,471.08 L225.16,471.32 L226.56,471.56 L227.97,471.79 L229.37,472.03 L230.78,472.26 L232.18,472.48 L233.59,472.71 L234.99,472.93 L236.40,473.14 L237.80,473.36 L239.21,473.57 L240.61,473.78 L242.02,473.99 L243.42,474.20 L244.83,474.40 L246.23,474.60 L247.64,474.80 L249.04,474.99 L250.45,475.18 L251.85,475.37 L253.26,475.56 L254.66,475.75 L256.07,475.93 L257.47,476.11 L258.88,476.29 L260.28,476.46 L261.69,476.63 L263.09,476.80 L264.50,476.97 L265.90,477.14 L267.31,477.30 L268.71,477.46 L270.12,477.62 L271.52,477.77 L272.93,477.93 L274.33,478.08 L275.74,478.23 L277.14,478.38 L278.55,478.52 L279.95,478.66 L281.36,478.80 L282.76,478.94 L284.17,479.08 L285.57,479.21 L286.98,479.34 L288.38,479.47 L289.79,479.60 L291.19,479.73 L292.60,479.85 L294.00,479.97 L295.41,480.09 L296.81,480.21 L298.22,480.32 L299.62,480.43 L301.03,480.54 L302.43,480.65 L303.84,480.76 L305.24,480.86 L306.65,480.97 L308.05,481.07 L309.46,481.17 L310.86,481.27 L312.27,481.36 L313.67,481.45 L315.08,481.55 L316.48,481.63 L317.89,481.72 L319.29,481.81 L320.70,481.89" stroke="#e3a63f" stroke-width="1.5" fill="none" stroke-linecap="round" stroke-linejoin="round"/>
<text class="lab" x="322.80" y="366.60" font-size="16.2" font-family="Liberation Serif, serif" fill="#1a1a1a">D</text>
<text class="lab" x="323.50" y="392.80" font-size="16.2" font-family="Liberation Serif, serif" fill="#1a1a1a">B</text>
<text class="lab" x="323.30" y="471.40" font-size="16.2" font-family="Liberation Serif, serif" fill="#1a1a1a">C</text>
<text class="lab" x="324.20" y="486.90" font-size="16.2" font-family="Liberation Serif, serif" fill="#1a1a1a">A</text>
<text transform="translate(154.50,508.80) skewX(-7.50)" font-size="14" font-family="Liberation Serif, Noto Serif CJK SC, serif" letter-spacing="0.55" fill="#1a1a1a">轴向应变</text><text x="212.70" y="508.80" font-size="14" font-family="Liberation Serif, serif" fill="#1a1a1a">,</text><text x="219.10" y="509.50" font-size="14" font-family="Liberation Serif, serif" font-style="italic" fill="#1a1a1a">ε</text><text x="225.80" y="512.90" font-size="10" font-family="Liberation Serif, serif" fill="#1a1a1a">a</text>
<g transform="translate(33.20,462.00) rotate(-90)"><text transform="translate(0.00,0.00) skewX(-7.50)" font-size="14" font-family="Liberation Serif, Noto Serif CJK SC, serif" letter-spacing="0.55" fill="#1a1a1a">体积应变</text><text x="60.80" y="0.00" font-size="14" font-family="Liberation Serif, serif" fill="#1a1a1a">,</text><text x="66.50" y="0.00" font-size="13" font-family="Liberation Serif, serif" font-style="italic" fill="#1a1a1a">ε</text><text x="72.60" y="3.00" font-size="9" font-family="Liberation Serif, serif" font-style="italic" fill="#1a1a1a">v</text></g>
<text x="356.30" y="359.80" font-size="15" font-family="Liberation Serif, serif" fill="#1a1a1a">f</text>
<line x1="391.50" y1="494.20" x2="391.50" y2="365.10" stroke="#8a837e" stroke-width="1.6"/>
<line x1="390.70" y1="493.40" x2="690.90" y2="493.40" stroke="#8a837e" stroke-width="1.6"/>
<path d="M390.75,361.10 L392.25,361.10 L393.55,367.40 Q391.50,366.80 389.45,367.40 Z" fill="#111"/>
<path d="M694.90,492.65 L694.90,494.15 L688.60,495.45 Q689.20,493.40 688.60,491.35 Z" fill="#111"/>
<line x1="393.10" y1="394.60" x2="687.90" y2="430.70" stroke="#332e2b" stroke-width="1.5" stroke-linecap="round"/>
<path d="M449.00,402.00 L449.59,402.81 L450.18,403.62 L450.77,404.43 L451.36,405.24 L451.95,406.05 L452.54,406.86 L453.13,407.67 L453.72,408.48 L454.32,409.29 L454.91,410.09 L455.51,410.90 L456.10,411.70 L456.70,412.51 L457.31,413.31 L457.91,414.10 L458.52,414.90 L459.13,415.69 L459.75,416.49 L460.36,417.28 L460.97,418.07 L461.59,418.86 L462.21,419.65 L462.82,420.44 L463.44,421.23 L464.08,422.00 L464.74,422.76 L465.39,423.52 L466.04,424.29 L466.65,425.08 L467.17,425.94 L467.55,426.86 L467.61,427.85 L467.12,428.71 L466.38,429.38 L465.52,429.89 L464.57,430.22 L463.59,430.43 L462.60,430.57 L461.61,430.68 L460.61,430.78 L459.61,430.87 L458.61,430.96 L457.61,431.04 L456.61,431.10 L455.61,431.14 L454.61,431.17 L453.61,431.20 L452.61,431.22 L451.60,431.24 L450.60,431.25 L449.60,431.26 L448.60,431.27 L447.60,431.28 L446.59,431.30 L445.59,431.31 L444.59,431.32 L443.59,431.33 L442.59,431.34 L441.58,431.35 L440.58,431.35 L439.58,431.36 L438.58,431.36 L437.58,431.36 L436.57,431.36 L435.57,431.36 L434.57,431.36 L433.57,431.36 L432.56,431.35 L431.56,431.35 L430.56,431.35 L429.56,431.34 L428.56,431.34 L427.55,431.34 L426.55,431.33 L425.55,431.33 L424.55,431.32 L423.54,431.32 L422.54,431.31 L421.54,431.30 L420.54,431.30 L419.54,431.29 L418.53,431.29 L417.53,431.28 L416.53,431.27 L415.53,431.26 L414.53,431.25 L413.52,431.24 L412.52,431.23 L411.52,431.21 L410.52,431.20 L409.51,431.19 L408.51,431.17 L407.51,431.16 L406.51,431.15 L405.51,431.14 L404.50,431.12 L403.50,431.11 L402.50,431.10" stroke="#e3a63f" stroke-width="1.5" fill="none" stroke-linecap="round" stroke-linejoin="round"/>
<path d="M555.00,407.60 L556.01,407.61 L557.01,407.61 L558.02,407.61 L559.02,407.61 L560.03,407.61 L561.03,407.61 L562.04,407.61 L563.05,407.61 L564.05,407.62 L565.06,407.63 L566.06,407.64 L567.07,407.66 L568.07,407.68 L569.08,407.72 L570.08,407.75 L571.09,407.79 L572.09,407.83 L573.10,407.87 L574.10,407.91 L575.11,407.96 L576.11,408.01 L577.12,408.07 L578.12,408.13 L579.12,408.20 L580.13,408.27 L581.13,408.34 L582.13,408.43 L583.13,408.52 L584.13,408.63 L585.13,408.74 L586.13,408.87 L587.13,409.01 L588.12,409.16 L589.11,409.33 L590.10,409.52 L591.09,409.72 L592.07,409.95 L593.04,410.21 L594.00,410.50 L594.95,410.83 L595.88,411.21 L596.80,411.63 L597.68,412.10 L598.52,412.65 L599.30,413.30 L599.91,414.09 L600.20,414.50" stroke="#3a9a55" stroke-width="1.5" fill="none" stroke-linecap="round" stroke-linejoin="round"/>
<path d="M601.40,416.00 L601.97,416.83 L602.54,417.65 L603.11,418.48 L603.67,419.30 L604.24,420.13 L604.81,420.96 L605.38,421.78 L605.95,422.61 L606.51,423.44 L607.08,424.27 L607.65,425.09 L608.23,425.91 L608.81,426.72 L609.40,427.53 L609.99,428.35 L610.57,429.17 L611.14,429.99 L611.69,430.83 L612.22,431.68 L612.72,432.55 L613.17,433.44 L613.63,434.34 L614.04,435.25 L614.32,436.21 L614.27,437.20 L613.84,438.10 L613.17,438.85 L612.38,439.46 L611.50,439.95 L610.57,440.32 L609.60,440.57 L608.62,440.76 L607.62,440.89 L606.63,440.99 L605.63,441.06 L604.63,441.12 L603.62,441.17 L602.62,441.20 L601.62,441.23 L600.62,441.26 L599.61,441.29 L598.61,441.33 L597.61,441.37 L596.61,441.43 L595.61,441.47 L594.61,441.51 L593.60,441.55 L592.60,441.58 L591.60,441.60 L590.60,441.62 L589.59,441.64 L588.59,441.65 L587.59,441.66 L586.59,441.67 L585.58,441.67 L584.58,441.68 L583.58,441.68 L582.57,441.68 L581.57,441.68 L580.57,441.68 L579.57,441.68 L578.56,441.69 L577.56,441.69 L576.56,441.69 L575.56,441.70 L574.55,441.71 L573.55,441.71 L572.55,441.72 L571.55,441.72 L570.54,441.72 L569.54,441.72 L568.54,441.72 L567.53,441.72 L566.53,441.72 L565.53,441.72 L564.53,441.72 L563.52,441.71 L562.52,441.71 L561.52,441.71 L560.52,441.71 L559.51,441.71 L558.51,441.70 L557.51,441.70 L556.50,441.70 L555.50,441.70 L555.00,441.70" stroke="#4050a0" stroke-width="1.5" fill="none" stroke-linecap="round" stroke-linejoin="round"/>
<path d="M631.40,431.00 L632.40,431.03 L633.41,431.07 L634.41,431.10 L635.41,431.14 L636.42,431.17 L637.42,431.20 L638.43,431.23 L639.43,431.27 L640.43,431.30 L641.44,431.33 L642.44,431.36 L643.44,431.40 L644.45,431.43 L645.45,431.46 L646.45,431.50 L647.46,431.53 L648.46,431.56 L649.47,431.60 L650.47,431.64 L651.47,431.67 L652.48,431.71 L653.48,431.75 L654.48,431.79 L655.49,431.83 L656.49,431.87 L657.49,431.92 L658.49,431.97 L659.50,432.03 L660.50,432.09 L661.50,432.16 L662.50,432.23 L663.50,432.30 L664.51,432.37 L665.51,432.45 L666.51,432.52 L667.51,432.60 L668.51,432.67 L669.51,432.74 L670.52,432.80 L671.52,432.86 L672.52,432.90 L673.53,432.94 L674.53,432.95 L675.53,432.91 L676.53,432.84 L677.52,432.67 L678.05,431.90 L677.94,430.90 L677.90,430.40" stroke="#e0433a" stroke-width="1.5" fill="none" stroke-linecap="round" stroke-linejoin="round"/>
<text class="lab" x="470.00" y="433.60" font-size="15.5" font-family="Liberation Serif, serif" fill="#1a1a1a">A</text>
<text class="lab" x="569.10" y="402.10" font-size="15.5" font-family="Liberation Serif, serif" fill="#1a1a1a">D</text>
<text class="lab" x="595.80" y="455.50" font-size="15.5" font-family="Liberation Serif, serif" fill="#1a1a1a">C</text>
<text class="lab" x="653.40" y="447.30" font-size="15.5" font-family="Liberation Serif, serif" fill="#1a1a1a">B</text>
<text transform="translate(620.00,419.90)" font-size="14" font-family="Liberation Serif, Noto Serif CJK SC, serif" letter-spacing="0.7" fill="#1a1a1a">临界状态线</text>
<text transform="translate(449.60,508.00) skewX(-7.50)" font-size="14" font-family="Liberation Serif, Noto Serif CJK SC, serif" letter-spacing="0.55" fill="#1a1a1a">平均有效应力</text><text transform="translate(539.20,508.00) skewX(-7.5)" font-size="14" font-family="Liberation Serif, serif" fill="#1a1a1a">(</text><text transform="translate(542.40,508.00) skewX(-7.50)" font-size="14" font-family="Liberation Serif, Noto Serif CJK SC, serif" letter-spacing="0.55" fill="#1a1a1a">对数尺度</text><text transform="translate(601.00,508.00) skewX(-7.5)" font-size="14" font-family="Liberation Serif, serif" fill="#1a1a1a">)</text><text x="609.00" y="508.00" font-size="14" font-family="Liberation Serif, serif" fill="#1a1a1a">,</text><text x="616.30" y="508.00" font-size="14" font-family="Liberation Serif, serif" fill="#1a1a1a">Inp′</text>
<g transform="translate(384.30,449.60) rotate(-90)"><text transform="translate(0.00,0.00)" font-size="13" font-family="Liberation Serif, Noto Serif CJK SC, serif" fill="#1a1a1a">孔隙比</text><text x="38.60" y="0.00" font-size="13" font-family="Liberation Serif, serif" fill="#1a1a1a">,</text><text x="47.30" y="0.00" font-size="13" font-family="Liberation Serif, serif" font-style="italic" fill="#1a1a1a">e</text></g>
</svg>
</body></html>
